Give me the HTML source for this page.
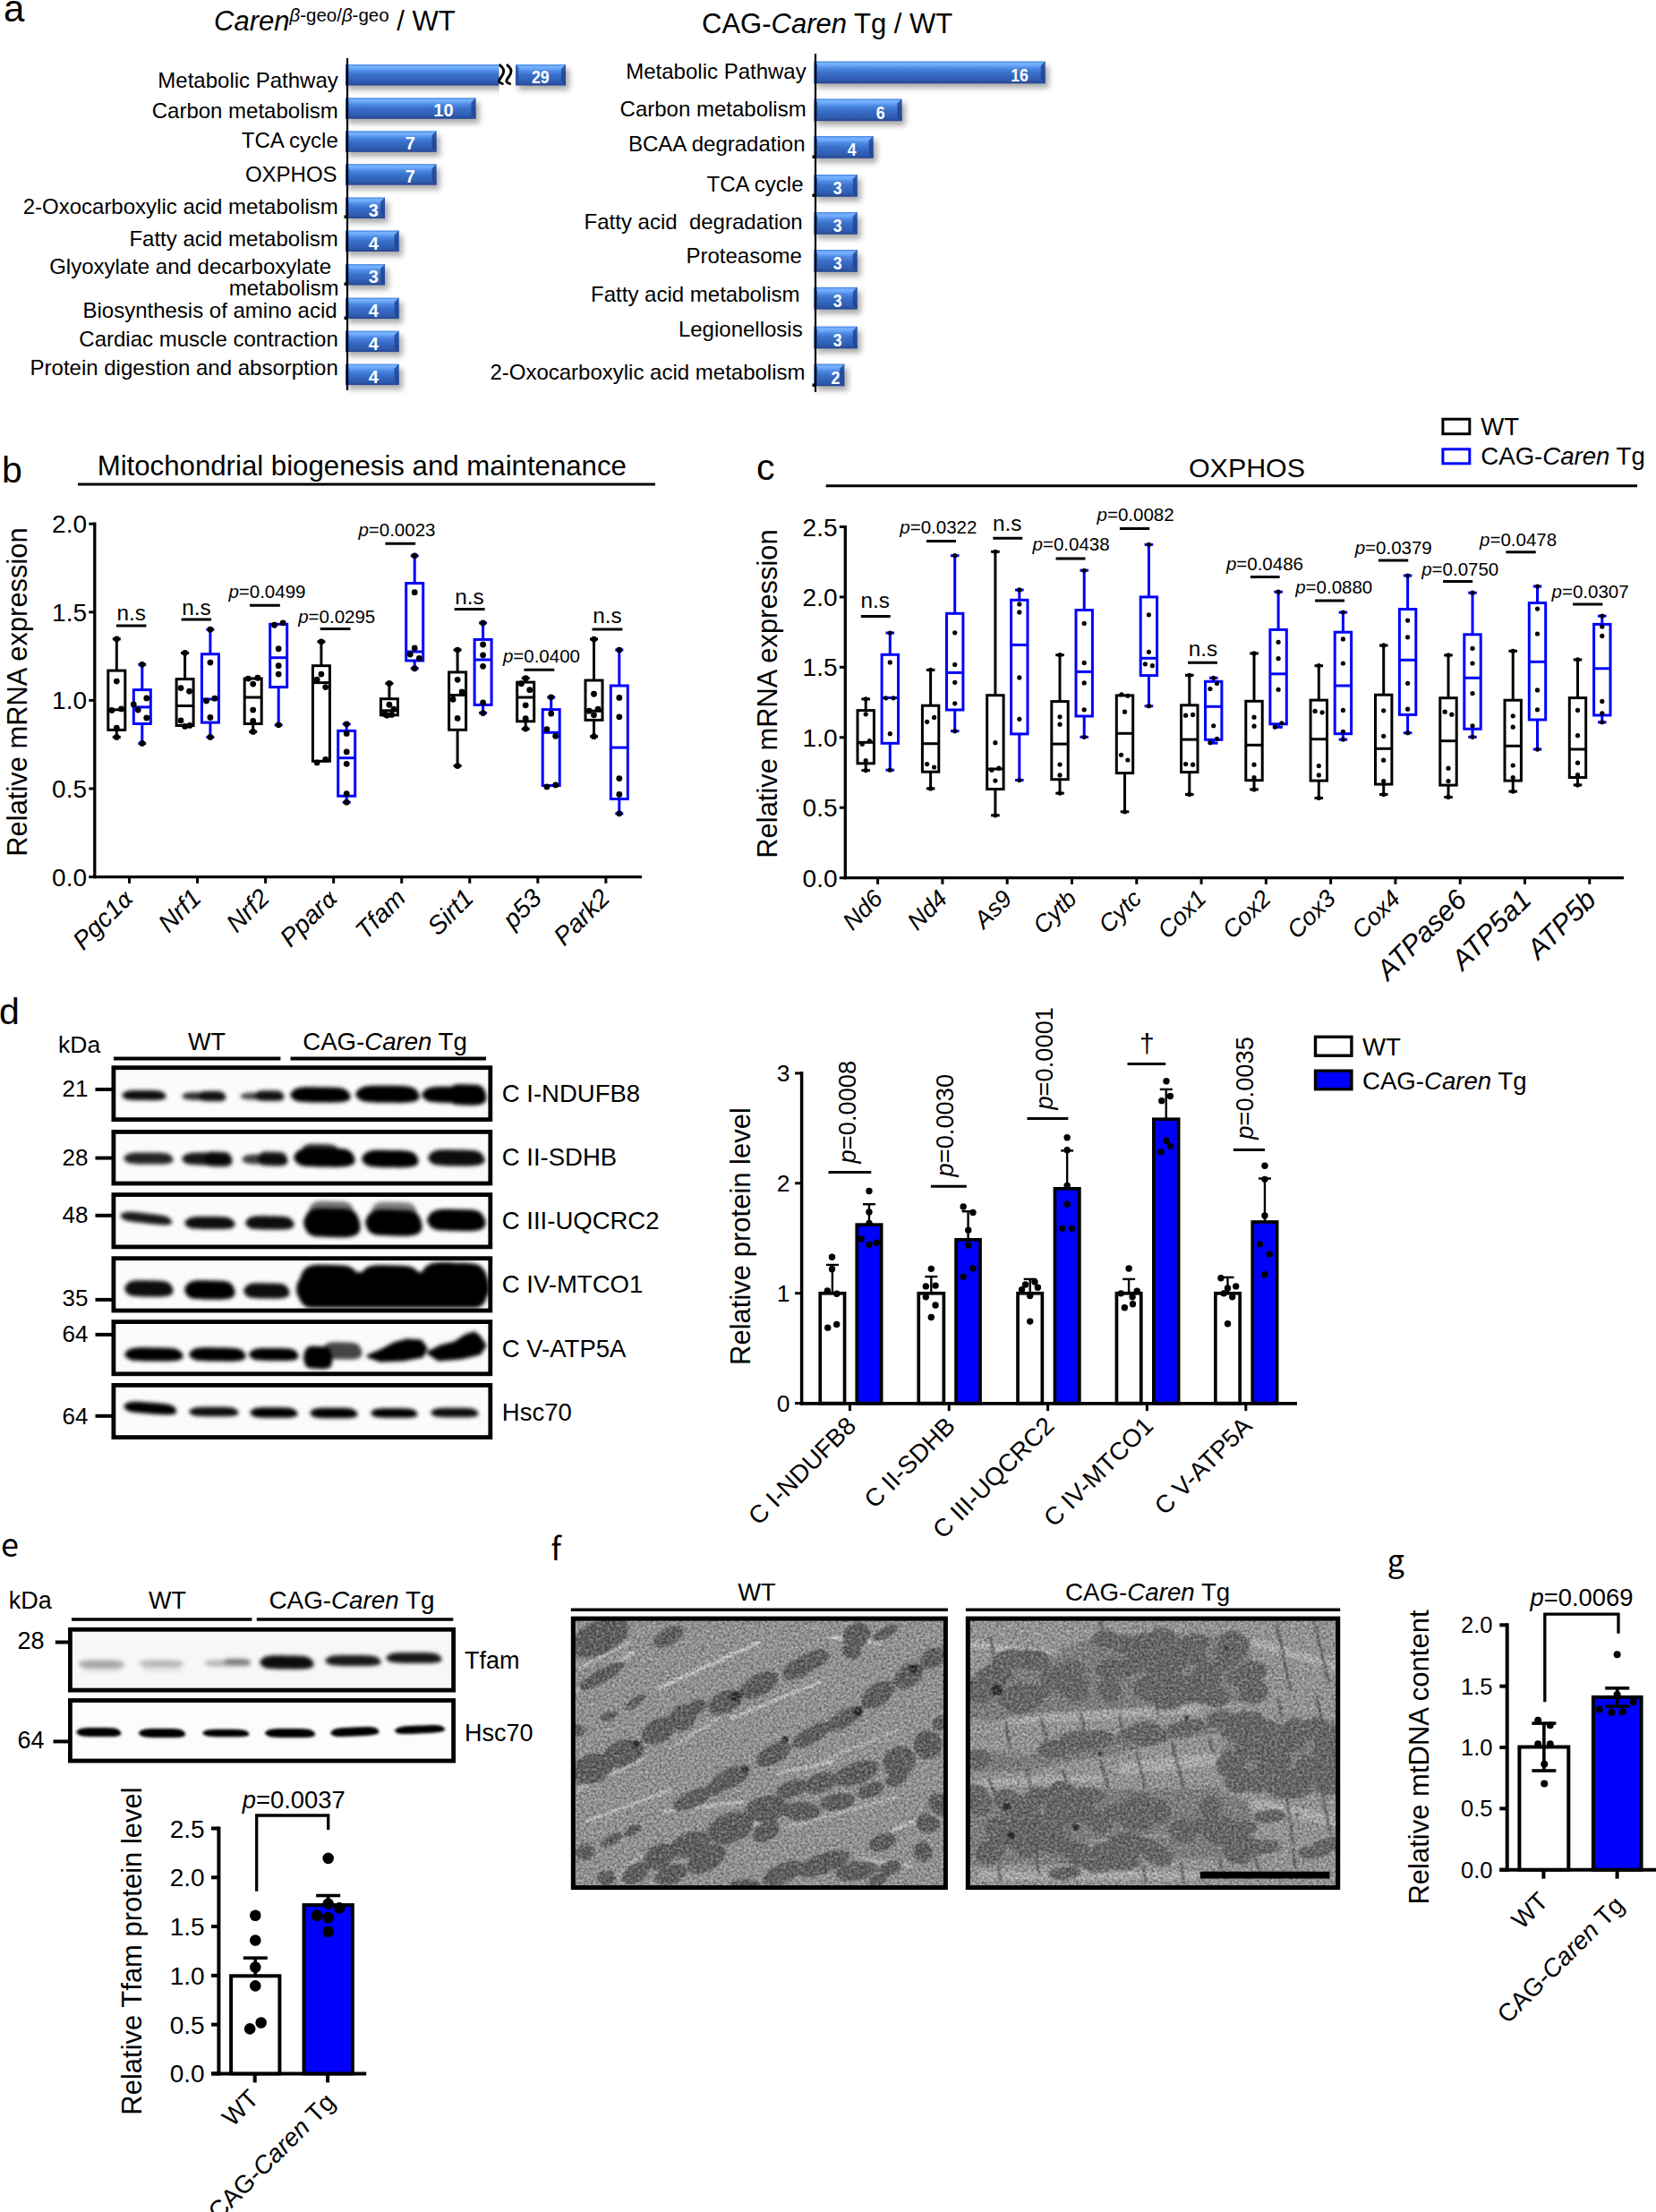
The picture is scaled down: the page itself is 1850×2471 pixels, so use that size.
<!DOCTYPE html>
<html lang="en"><head><meta charset="utf-8"><title>Figure</title>
<style>
html,body{margin:0;padding:0;background:#fff;}
body{width:1850px;height:2471px;overflow:hidden;}
svg{display:block;font-family:'Liberation Sans', Arial, Helvetica, sans-serif;}
</style></head><body>
<svg width="1850" height="2471" viewBox="0 0 1850 2471">
<defs>
<linearGradient id="barg" x1="0" y1="0" x2="0" y2="1">
<stop offset="0" stop-color="#4a86e0"/><stop offset="0.05" stop-color="#5b98ee"/><stop offset="0.08" stop-color="#74b2ff"/><stop offset="0.18" stop-color="#6eabfb"/>
<stop offset="0.30" stop-color="#4f8ce6"/><stop offset="0.50" stop-color="#3b71cb"/><stop offset="0.82" stop-color="#2f5db2"/><stop offset="0.92" stop-color="#2a52a2"/><stop offset="1" stop-color="#25468e"/>
</linearGradient>
<filter id="sh" x="-10%" y="-40%" width="125%" height="220%"><feGaussianBlur stdDeviation="3"/></filter>
<filter id="bl2" x="-20%" y="-60%" width="140%" height="220%"><feGaussianBlur stdDeviation="2.2"/></filter><filter id="bl3" x="-20%" y="-60%" width="140%" height="220%"><feGaussianBlur stdDeviation="3.2"/></filter><filter id="bl15" x="-20%" y="-60%" width="140%" height="220%"><feGaussianBlur stdDeviation="1.5"/></filter>
<clipPath id="bc1"><rect x="124.5" y="1190.3" width="425.7" height="62.7"/></clipPath>
<clipPath id="bc2"><rect x="124.5" y="1262" width="425.7" height="62.4"/></clipPath>
<clipPath id="bc3"><rect x="124.5" y="1332.2" width="425.7" height="63.1"/></clipPath>
<clipPath id="bc4"><rect x="124.5" y="1403.3" width="425.7" height="63.1"/></clipPath>
<clipPath id="bc5"><rect x="124.5" y="1474.2" width="425.7" height="63"/></clipPath>
<clipPath id="bc6"><rect x="124.5" y="1545" width="425.7" height="63"/></clipPath>
<clipPath id="bc7"><rect x="76" y="1817.9" width="433" height="72.6"/></clipPath>
<clipPath id="bc8"><rect x="76" y="1897.1" width="433" height="72.3"/></clipPath>
<filter id="emn" x="0" y="0" width="100%" height="100%">
<feTurbulence type="fractalNoise" baseFrequency="0.38" numOctaves="2" seed="7" result="n"/>
<feColorMatrix in="n" type="matrix" values="0 0 0 0 0  0 0 0 0 0  0 0 0 0 0  0.9 0 0 0 -0.32"/>
</filter>
<filter id="emn2" x="0" y="0" width="100%" height="100%">
<feTurbulence type="fractalNoise" baseFrequency="0.33" numOctaves="2" seed="3" result="n"/>
<feColorMatrix in="n" type="matrix" values="0 0 0 0 1  0 0 0 0 1  0 0 0 0 1  0 0.8 0 0 -0.34"/>
</filter>
<filter id="emb" x="-10%" y="-10%" width="120%" height="120%"><feGaussianBlur stdDeviation="0.9"/></filter>
<clipPath id="emL"><rect x="640" y="1808" width="417" height="301"/></clipPath>
<clipPath id="emR"><rect x="1081" y="1808" width="414" height="301"/></clipPath>
</defs>
<rect width="1850" height="2471" fill="#fff"/>
<text x="4" y="23.5" font-size="42" text-anchor="start">a</text>
<text x="239" y="34" font-size="31"><tspan font-style="italic">Caren</tspan><tspan font-size="20.5" dy="-10.5"><tspan font-style="italic">β</tspan>-geo/<tspan font-style="italic">β</tspan>-geo</tspan><tspan dy="10.5"> / WT</tspan></text>
<text x="784" y="36.5" font-size="31" text-anchor="start">CAG-<tspan font-style="italic">Caren</tspan> Tg / WT</text>
<rect x="389" y="77" width="177" height="23.5" fill="#000" opacity="0.33" filter="url(#sh)"/>
<rect x="386" y="72" width="176" height="23.5" fill="url(#barg)"/>
<path d="M386 72 l3.5 3.5 v16.5 l-3.5 3.5z" fill="#24489a" opacity="0.75"/>
<rect x="557.5" y="64" width="18.5" height="48" fill="#fff"/>
<rect x="579" y="77" width="57" height="23.5" fill="#000" opacity="0.33" filter="url(#sh)"/>
<rect x="576" y="72" width="56" height="23.5" fill="url(#barg)"/>
<path d="M576 72 l3.5 3.5 v16.5 l-3.5 3.5z" fill="#24489a" opacity="0.75"/>
<path d="M632 72 l-5 5 v13.5 l5 5z" fill="#1f4290" opacity="0.8"/>
<text x="603.8" y="93.2" font-size="21" text-anchor="middle" font-weight="bold" fill="#fff" textLength="19.74" lengthAdjust="spacingAndGlyphs">29</text>
<path d="M558.6 72.8 C564.6 77.5 563.2 82 559.6 86.5 S557.4 92.3 561.4 93.6" fill="none" stroke="#000" stroke-width="2.9" stroke-linecap="round"/>
<path d="M566.9 72.8 C572.9 77.5 571.5 82 567.9 86.5 S565.7 92.3 569.7 93.6" fill="none" stroke="#000" stroke-width="2.9" stroke-linecap="round"/>
<rect x="389" y="114.3" width="146.5" height="23.5" fill="#000" opacity="0.33" filter="url(#sh)"/>
<rect x="386" y="109.3" width="145.5" height="23.5" fill="url(#barg)"/>
<path d="M386 109.3 l3.5 3.5 v16.5 l-3.5 3.5z" fill="#24489a" opacity="0.75"/>
<path d="M531.5 109.3 l-5 5 v13.5 l5 5z" fill="#1f4290" opacity="0.8"/>
<text x="495.4" y="130.3" font-size="20" text-anchor="middle" font-weight="bold" fill="#fff">10</text>
<rect x="389" y="151.3" width="102.5" height="23.5" fill="#000" opacity="0.33" filter="url(#sh)"/>
<rect x="386" y="146.3" width="101.5" height="23.5" fill="url(#barg)"/>
<path d="M386 146.3 l3.5 3.5 v16.5 l-3.5 3.5z" fill="#24489a" opacity="0.75"/>
<path d="M487.5 146.3 l-5 5 v13.5 l5 5z" fill="#1f4290" opacity="0.8"/>
<text x="458.3" y="167.3" font-size="20" text-anchor="middle" font-weight="bold" fill="#fff">7</text>
<rect x="389" y="188.2" width="102.5" height="23.5" fill="#000" opacity="0.33" filter="url(#sh)"/>
<rect x="386" y="183.2" width="101.5" height="23.5" fill="url(#barg)"/>
<path d="M386 183.2 l3.5 3.5 v16.5 l-3.5 3.5z" fill="#24489a" opacity="0.75"/>
<path d="M487.5 183.2 l-5 5 v13.5 l5 5z" fill="#1f4290" opacity="0.8"/>
<text x="458.3" y="204.2" font-size="20" text-anchor="middle" font-weight="bold" fill="#fff">7</text>
<rect x="389" y="225.5" width="45" height="23.5" fill="#000" opacity="0.33" filter="url(#sh)"/>
<rect x="386" y="220.5" width="44" height="23.5" fill="url(#barg)"/>
<path d="M386 220.5 l3.5 3.5 v16.5 l-3.5 3.5z" fill="#24489a" opacity="0.75"/>
<path d="M430 220.5 l-5 5 v13.5 l5 5z" fill="#1f4290" opacity="0.8"/>
<text x="417.3" y="241.5" font-size="20" text-anchor="middle" font-weight="bold" fill="#fff">3</text>
<rect x="389" y="262.5" width="60.6" height="23.5" fill="#000" opacity="0.33" filter="url(#sh)"/>
<rect x="386" y="257.5" width="59.6" height="23.5" fill="url(#barg)"/>
<path d="M386 257.5 l3.5 3.5 v16.5 l-3.5 3.5z" fill="#24489a" opacity="0.75"/>
<path d="M445.6 257.5 l-5 5 v13.5 l5 5z" fill="#1f4290" opacity="0.8"/>
<text x="417.3" y="278.5" font-size="20" text-anchor="middle" font-weight="bold" fill="#fff">4</text>
<rect x="389" y="300" width="45" height="23.5" fill="#000" opacity="0.33" filter="url(#sh)"/>
<rect x="386" y="295" width="44" height="23.5" fill="url(#barg)"/>
<path d="M386 295 l3.5 3.5 v16.5 l-3.5 3.5z" fill="#24489a" opacity="0.75"/>
<path d="M430 295 l-5 5 v13.5 l5 5z" fill="#1f4290" opacity="0.8"/>
<text x="417.3" y="316" font-size="20" text-anchor="middle" font-weight="bold" fill="#fff">3</text>
<rect x="389" y="337.6" width="60.6" height="23.5" fill="#000" opacity="0.33" filter="url(#sh)"/>
<rect x="386" y="332.6" width="59.6" height="23.5" fill="url(#barg)"/>
<path d="M386 332.6 l3.5 3.5 v16.5 l-3.5 3.5z" fill="#24489a" opacity="0.75"/>
<path d="M445.6 332.6 l-5 5 v13.5 l5 5z" fill="#1f4290" opacity="0.8"/>
<text x="417.3" y="353.6" font-size="20" text-anchor="middle" font-weight="bold" fill="#fff">4</text>
<rect x="389" y="374.6" width="60.6" height="23.5" fill="#000" opacity="0.33" filter="url(#sh)"/>
<rect x="386" y="369.6" width="59.6" height="23.5" fill="url(#barg)"/>
<path d="M386 369.6 l3.5 3.5 v16.5 l-3.5 3.5z" fill="#24489a" opacity="0.75"/>
<path d="M445.6 369.6 l-5 5 v13.5 l5 5z" fill="#1f4290" opacity="0.8"/>
<text x="417.3" y="390.6" font-size="20" text-anchor="middle" font-weight="bold" fill="#fff">4</text>
<rect x="389" y="411.6" width="60.6" height="23.5" fill="#000" opacity="0.33" filter="url(#sh)"/>
<rect x="386" y="406.6" width="59.6" height="23.5" fill="url(#barg)"/>
<path d="M386 406.6 l3.5 3.5 v16.5 l-3.5 3.5z" fill="#24489a" opacity="0.75"/>
<path d="M445.6 406.6 l-5 5 v13.5 l5 5z" fill="#1f4290" opacity="0.8"/>
<text x="417.3" y="427.6" font-size="20" text-anchor="middle" font-weight="bold" fill="#fff">4</text>
<line x1="388" y1="65" x2="388" y2="436" stroke="#000" stroke-width="2.2"/>
<text x="377.8" y="98.4" font-size="24" text-anchor="end">Metabolic Pathway</text>
<text x="377.8" y="131.5" font-size="24" text-anchor="end">Carbon metabolism</text>
<text x="377.8" y="164.6" font-size="24" text-anchor="end">TCA cycle</text>
<text x="376.6" y="203.3" font-size="24" text-anchor="end">OXPHOS</text>
<text x="377.8" y="239.1" font-size="24" text-anchor="end">2-Oxocarboxylic acid metabolism</text>
<text x="377.8" y="274.5" font-size="24" text-anchor="end">Fatty acid metabolism</text>
<text x="370" y="305.6" font-size="24" text-anchor="end">Glyoxylate and decarboxylate</text>
<text x="378.5" y="330.3" font-size="24" text-anchor="end">metabolism</text>
<text x="376.6" y="355.4" font-size="24" text-anchor="end">Biosynthesis of amino acid</text>
<text x="377.8" y="386.5" font-size="24" text-anchor="end">Cardiac muscle contraction</text>
<text x="377.8" y="419.2" font-size="24" text-anchor="end">Protein digestion and absorption</text>
<rect x="384.5" y="240.5" width="3" height="3.5" fill="#000"/>
<rect x="384.5" y="315.5" width="3" height="3.5" fill="#000"/>
<rect x="384.5" y="353.5" width="3" height="3.5" fill="#000"/>
<rect x="912.5" y="73.5" width="259.2" height="24.8" fill="#000" opacity="0.33" filter="url(#sh)"/>
<rect x="909.5" y="68.5" width="258.2" height="24.8" fill="url(#barg)"/>
<path d="M909.5 68.5 l3.5 3.5 v17.8 l-3.5 3.5z" fill="#24489a" opacity="0.75"/>
<path d="M1167.7 68.5 l-5 5 v14.8 l5 5z" fill="#1f4290" opacity="0.8"/>
<text x="1139" y="90.7" font-size="21" text-anchor="middle" font-weight="bold" fill="#fff" textLength="19.74" lengthAdjust="spacingAndGlyphs">16</text>
<rect x="912.5" y="115.4" width="99" height="24.8" fill="#000" opacity="0.33" filter="url(#sh)"/>
<rect x="909.5" y="110.4" width="98" height="24.8" fill="url(#barg)"/>
<path d="M909.5 110.4 l3.5 3.5 v17.8 l-3.5 3.5z" fill="#24489a" opacity="0.75"/>
<path d="M1007.5 110.4 l-5 5 v14.8 l5 5z" fill="#1f4290" opacity="0.8"/>
<text x="983.6" y="132.6" font-size="21" text-anchor="middle" font-weight="bold" fill="#fff" textLength="9.87" lengthAdjust="spacingAndGlyphs">6</text>
<rect x="912.5" y="157" width="67.1" height="24.8" fill="#000" opacity="0.33" filter="url(#sh)"/>
<rect x="909.5" y="152" width="66.1" height="24.8" fill="url(#barg)"/>
<path d="M909.5 152 l3.5 3.5 v17.8 l-3.5 3.5z" fill="#24489a" opacity="0.75"/>
<path d="M975.6 152 l-5 5 v14.8 l5 5z" fill="#1f4290" opacity="0.8"/>
<text x="951.7" y="174.2" font-size="21" text-anchor="middle" font-weight="bold" fill="#fff" textLength="9.87" lengthAdjust="spacingAndGlyphs">4</text>
<rect x="912.5" y="200" width="49.2" height="24.8" fill="#000" opacity="0.33" filter="url(#sh)"/>
<rect x="909.5" y="195" width="48.2" height="24.8" fill="url(#barg)"/>
<path d="M909.5 195 l3.5 3.5 v17.8 l-3.5 3.5z" fill="#24489a" opacity="0.75"/>
<path d="M957.7 195 l-5 5 v14.8 l5 5z" fill="#1f4290" opacity="0.8"/>
<text x="935.8" y="217.2" font-size="21" text-anchor="middle" font-weight="bold" fill="#fff" textLength="9.87" lengthAdjust="spacingAndGlyphs">3</text>
<rect x="912.5" y="242" width="49.2" height="24.8" fill="#000" opacity="0.33" filter="url(#sh)"/>
<rect x="909.5" y="237" width="48.2" height="24.8" fill="url(#barg)"/>
<path d="M909.5 237 l3.5 3.5 v17.8 l-3.5 3.5z" fill="#24489a" opacity="0.75"/>
<path d="M957.7 237 l-5 5 v14.8 l5 5z" fill="#1f4290" opacity="0.8"/>
<text x="935.8" y="259.2" font-size="21" text-anchor="middle" font-weight="bold" fill="#fff" textLength="9.87" lengthAdjust="spacingAndGlyphs">3</text>
<rect x="912.5" y="284" width="49.2" height="24.8" fill="#000" opacity="0.33" filter="url(#sh)"/>
<rect x="909.5" y="279" width="48.2" height="24.8" fill="url(#barg)"/>
<path d="M909.5 279 l3.5 3.5 v17.8 l-3.5 3.5z" fill="#24489a" opacity="0.75"/>
<path d="M957.7 279 l-5 5 v14.8 l5 5z" fill="#1f4290" opacity="0.8"/>
<text x="935.8" y="301.2" font-size="21" text-anchor="middle" font-weight="bold" fill="#fff" textLength="9.87" lengthAdjust="spacingAndGlyphs">3</text>
<rect x="912.5" y="325.8" width="49.2" height="24.8" fill="#000" opacity="0.33" filter="url(#sh)"/>
<rect x="909.5" y="320.8" width="48.2" height="24.8" fill="url(#barg)"/>
<path d="M909.5 320.8 l3.5 3.5 v17.8 l-3.5 3.5z" fill="#24489a" opacity="0.75"/>
<path d="M957.7 320.8 l-5 5 v14.8 l5 5z" fill="#1f4290" opacity="0.8"/>
<text x="935.8" y="343" font-size="21" text-anchor="middle" font-weight="bold" fill="#fff" textLength="9.87" lengthAdjust="spacingAndGlyphs">3</text>
<rect x="912.5" y="369.6" width="49.2" height="24.8" fill="#000" opacity="0.33" filter="url(#sh)"/>
<rect x="909.5" y="364.6" width="48.2" height="24.8" fill="url(#barg)"/>
<path d="M909.5 364.6 l3.5 3.5 v17.8 l-3.5 3.5z" fill="#24489a" opacity="0.75"/>
<path d="M957.7 364.6 l-5 5 v14.8 l5 5z" fill="#1f4290" opacity="0.8"/>
<text x="935.8" y="386.8" font-size="21" text-anchor="middle" font-weight="bold" fill="#fff" textLength="9.87" lengthAdjust="spacingAndGlyphs">3</text>
<rect x="912.5" y="411.5" width="34.8" height="24.8" fill="#000" opacity="0.33" filter="url(#sh)"/>
<rect x="909.5" y="406.5" width="33.8" height="24.8" fill="url(#barg)"/>
<path d="M909.5 406.5 l3.5 3.5 v17.8 l-3.5 3.5z" fill="#24489a" opacity="0.75"/>
<path d="M943.3 406.5 l-5 5 v14.8 l5 5z" fill="#1f4290" opacity="0.8"/>
<text x="933.4" y="428.7" font-size="21" text-anchor="middle" font-weight="bold" fill="#fff" textLength="9.87" lengthAdjust="spacingAndGlyphs">2</text>
<line x1="911" y1="60" x2="911" y2="438" stroke="#000" stroke-width="2.2"/>
<text x="900.7" y="87.7" font-size="24" text-anchor="end" xml:space="preserve">Metabolic Pathway</text>
<text x="900.7" y="129.5" font-size="24" text-anchor="end" xml:space="preserve">Carbon metabolism</text>
<text x="899.5" y="168.6" font-size="24" text-anchor="end" xml:space="preserve">BCAA degradation</text>
<text x="897.5" y="214" font-size="24" text-anchor="end" xml:space="preserve">TCA cycle</text>
<text x="896.7" y="255.8" font-size="24" text-anchor="end" xml:space="preserve">Fatty acid  degradation</text>
<text x="895.9" y="293.7" font-size="24" text-anchor="end" xml:space="preserve">Proteasome</text>
<text x="893.5" y="336.7" font-size="24" text-anchor="end" xml:space="preserve">Fatty acid metabolism</text>
<text x="896.7" y="376.2" font-size="24" text-anchor="end" xml:space="preserve">Legionellosis</text>
<text x="899.5" y="424.4" font-size="24" text-anchor="end" xml:space="preserve">2-Oxocarboxylic acid metabolism</text>
<rect x="907.5" y="173.5" width="3" height="3.5" fill="#000"/>
<rect x="907.5" y="216.5" width="3" height="3.5" fill="#000"/>
<rect x="907.5" y="428.5" width="3" height="3.5" fill="#000"/>
<text x="2" y="539" font-size="41" text-anchor="start">b</text>
<text x="404.3" y="530.5" font-size="31.2" text-anchor="middle">Mitochondrial biogenesis and maintenance</text>
<line x1="87" y1="541" x2="732" y2="541" stroke="#000" stroke-width="3"/>
<line x1="105.8" y1="583.5" x2="105.8" y2="981.25" stroke="#000" stroke-width="3.3"/>
<line x1="104.15" y1="979.6" x2="717" y2="979.6" stroke="#000" stroke-width="3.3"/>
<line x1="99.3" y1="585.2" x2="105.8" y2="585.2" stroke="#000" stroke-width="3"/>
<text x="97" y="595.2" font-size="28" text-anchor="end">2.0</text>
<line x1="99.3" y1="683.8" x2="105.8" y2="683.8" stroke="#000" stroke-width="3"/>
<text x="97" y="693.8" font-size="28" text-anchor="end">1.5</text>
<line x1="99.3" y1="782.4" x2="105.8" y2="782.4" stroke="#000" stroke-width="3"/>
<text x="97" y="792.4" font-size="28" text-anchor="end">1.0</text>
<line x1="99.3" y1="881" x2="105.8" y2="881" stroke="#000" stroke-width="3"/>
<text x="97" y="891" font-size="28" text-anchor="end">0.5</text>
<line x1="99.3" y1="979.6" x2="105.8" y2="979.6" stroke="#000" stroke-width="3"/>
<text x="97" y="989.6" font-size="28" text-anchor="end">0.0</text>
<text x="29.5" y="773" font-size="30.9" text-anchor="middle" transform="rotate(-90 29.5 773)">Relative mRNA expression</text>
<line x1="144.5" y1="979.6" x2="144.5" y2="986.8" stroke="#000" stroke-width="3"/>
<text x="150.5" y="1005" font-size="28.5" text-anchor="end" transform="rotate(-45 150.5 1005)" font-style="italic">Pgc1<tspan font-family="DejaVu Sans, Liberation Sans, sans-serif" font-size="25">α</tspan></text>
<line x1="220.55" y1="979.6" x2="220.55" y2="986.8" stroke="#000" stroke-width="3"/>
<text x="226.55" y="1005" font-size="28.5" text-anchor="end" transform="rotate(-45 226.55 1005)" font-style="italic">Nrf1</text>
<line x1="296.6" y1="979.6" x2="296.6" y2="986.8" stroke="#000" stroke-width="3"/>
<text x="302.6" y="1005" font-size="28.5" text-anchor="end" transform="rotate(-45 302.6 1005)" font-style="italic">Nrf2</text>
<line x1="372.65" y1="979.6" x2="372.65" y2="986.8" stroke="#000" stroke-width="3"/>
<text x="378.65" y="1005" font-size="28.5" text-anchor="end" transform="rotate(-45 378.65 1005)" font-style="italic">Ppar<tspan font-family="DejaVu Sans, Liberation Sans, sans-serif" font-size="25">α</tspan></text>
<line x1="448.7" y1="979.6" x2="448.7" y2="986.8" stroke="#000" stroke-width="3"/>
<text x="454.7" y="1005" font-size="28.5" text-anchor="end" transform="rotate(-45 454.7 1005)" font-style="italic">Tfam</text>
<line x1="524.75" y1="979.6" x2="524.75" y2="986.8" stroke="#000" stroke-width="3"/>
<text x="530.75" y="1005" font-size="28.5" text-anchor="end" transform="rotate(-45 530.75 1005)" font-style="italic">Sirt1</text>
<line x1="600.8" y1="979.6" x2="600.8" y2="986.8" stroke="#000" stroke-width="3"/>
<text x="606.8" y="1005" font-size="28.5" text-anchor="end" transform="rotate(-45 606.8 1005)" font-style="italic">p53</text>
<line x1="676.85" y1="979.6" x2="676.85" y2="986.8" stroke="#000" stroke-width="3"/>
<text x="682.85" y="1005" font-size="28.5" text-anchor="end" transform="rotate(-45 682.85 1005)" font-style="italic">Park2</text>
<line x1="130.3" y1="713.8" x2="130.3" y2="749.1" stroke="#000" stroke-width="3"/>
<line x1="125.8" y1="713.8" x2="134.8" y2="713.8" stroke="#000" stroke-width="3"/>
<line x1="130.3" y1="815.4" x2="130.3" y2="823.4" stroke="#000" stroke-width="3"/>
<line x1="125.8" y1="823.4" x2="134.8" y2="823.4" stroke="#000" stroke-width="3"/>
<rect x="120.8" y="749.1" width="19" height="66.3" fill="#fff" stroke="#000" stroke-width="3"/>
<line x1="120.8" y1="792.8" x2="139.8" y2="792.8" stroke="#000" stroke-width="3"/>
<circle cx="130.3" cy="713.81" r="3.4"/>
<circle cx="130.3" cy="761.04" r="3.4"/>
<circle cx="124.92" cy="793.52" r="3.4"/>
<circle cx="135.48" cy="791.93" r="3.4"/>
<circle cx="130.3" cy="813.05" r="3.4"/>
<circle cx="130.3" cy="823.41" r="3.4"/>
<line x1="158.8" y1="742.3" x2="158.8" y2="770.6" stroke="#0000ff" stroke-width="3"/>
<line x1="154.3" y1="742.3" x2="163.3" y2="742.3" stroke="#0000ff" stroke-width="3"/>
<line x1="158.8" y1="808.5" x2="158.8" y2="830.4" stroke="#0000ff" stroke-width="3"/>
<line x1="154.3" y1="830.4" x2="163.3" y2="830.4" stroke="#0000ff" stroke-width="3"/>
<rect x="149.3" y="770.6" width="19" height="37.9" fill="#fff" stroke="#0000ff" stroke-width="3"/>
<line x1="149.3" y1="789.9" x2="168.3" y2="789.9" stroke="#0000ff" stroke-width="3"/>
<circle cx="158.8" cy="742.3" r="3.4"/>
<circle cx="163.78" cy="779.97" r="3.4"/>
<circle cx="149.23" cy="786.94" r="3.4"/>
<circle cx="154.22" cy="793.12" r="3.4"/>
<circle cx="163.78" cy="801.89" r="3.4"/>
<circle cx="158.8" cy="830.39" r="3.4"/>
<line x1="206.6" y1="729.4" x2="206.6" y2="758.6" stroke="#000" stroke-width="3"/>
<line x1="202.1" y1="729.4" x2="211.1" y2="729.4" stroke="#000" stroke-width="3"/>
<rect x="197.1" y="758.6" width="19" height="51.9" fill="#fff" stroke="#000" stroke-width="3"/>
<line x1="197.1" y1="788.5" x2="216.1" y2="788.5" stroke="#000" stroke-width="3"/>
<circle cx="206.6" cy="729.35" r="3.4"/>
<circle cx="202.02" cy="768.61" r="3.4"/>
<circle cx="211.58" cy="772.2" r="3.4"/>
<circle cx="202.02" cy="804.88" r="3.4"/>
<circle cx="206.6" cy="811.45" r="3.4"/>
<circle cx="211.98" cy="810.46" r="3.4"/>
<line x1="234.9" y1="703.2" x2="234.9" y2="730.7" stroke="#0000ff" stroke-width="3"/>
<line x1="230.4" y1="703.2" x2="239.4" y2="703.2" stroke="#0000ff" stroke-width="3"/>
<line x1="234.9" y1="807.1" x2="234.9" y2="823.4" stroke="#0000ff" stroke-width="3"/>
<line x1="230.4" y1="823.4" x2="239.4" y2="823.4" stroke="#0000ff" stroke-width="3"/>
<rect x="225.4" y="730.7" width="19" height="76.4" fill="#fff" stroke="#0000ff" stroke-width="3"/>
<line x1="225.4" y1="781" x2="244.4" y2="781" stroke="#0000ff" stroke-width="3"/>
<circle cx="234.9" cy="703.24" r="3.4"/>
<circle cx="234.9" cy="740.11" r="3.4"/>
<circle cx="230.52" cy="782.96" r="3.4"/>
<circle cx="239.88" cy="780.17" r="3.4"/>
<circle cx="234.9" cy="801.49" r="3.4"/>
<circle cx="234.9" cy="823.41" r="3.4"/>
<line x1="282.7" y1="808.5" x2="282.7" y2="817.4" stroke="#000" stroke-width="3"/>
<line x1="278.2" y1="817.4" x2="287.2" y2="817.4" stroke="#000" stroke-width="3"/>
<rect x="273.2" y="758" width="19" height="50.5" fill="#fff" stroke="#000" stroke-width="3"/>
<line x1="273.2" y1="779" x2="292.2" y2="779" stroke="#000" stroke-width="3"/>
<circle cx="277.32" cy="758.05" r="3.4"/>
<circle cx="287.88" cy="757.25" r="3.4"/>
<circle cx="282.7" cy="764.03" r="3.4"/>
<circle cx="282.7" cy="793.12" r="3.4"/>
<circle cx="282.7" cy="805.48" r="3.4"/>
<circle cx="282.7" cy="817.43" r="3.4"/>
<line x1="311.2" y1="767.6" x2="311.2" y2="809.9" stroke="#0000ff" stroke-width="3"/>
<line x1="306.7" y1="809.9" x2="315.7" y2="809.9" stroke="#0000ff" stroke-width="3"/>
<rect x="301.7" y="697.3" width="19" height="70.3" fill="#fff" stroke="#0000ff" stroke-width="3"/>
<line x1="301.7" y1="734.7" x2="320.7" y2="734.7" stroke="#0000ff" stroke-width="3"/>
<circle cx="306.62" cy="698.26" r="3.4"/>
<circle cx="316.18" cy="695.87" r="3.4"/>
<circle cx="311.2" cy="724.77" r="3.4"/>
<circle cx="311.2" cy="743.7" r="3.4"/>
<circle cx="311.2" cy="753.06" r="3.4"/>
<circle cx="311.2" cy="809.86" r="3.4"/>
<line x1="358.9" y1="716.8" x2="358.9" y2="743.7" stroke="#000" stroke-width="3"/>
<line x1="354.4" y1="716.8" x2="363.4" y2="716.8" stroke="#000" stroke-width="3"/>
<rect x="349.4" y="743.7" width="19" height="106.6" fill="#fff" stroke="#000" stroke-width="3"/>
<line x1="349.4" y1="762.6" x2="368.4" y2="762.6" stroke="#000" stroke-width="3"/>
<circle cx="358.9" cy="716.8" r="3.4"/>
<circle cx="358.9" cy="753.06" r="3.4"/>
<circle cx="354.12" cy="759.04" r="3.4"/>
<circle cx="363.68" cy="767.61" r="3.4"/>
<circle cx="354.12" cy="851.91" r="3.4"/>
<circle cx="363.68" cy="848.32" r="3.4"/>
<line x1="387.2" y1="808.9" x2="387.2" y2="816.4" stroke="#0000ff" stroke-width="3"/>
<line x1="382.7" y1="808.9" x2="391.7" y2="808.9" stroke="#0000ff" stroke-width="3"/>
<line x1="387.2" y1="889.2" x2="387.2" y2="896.2" stroke="#0000ff" stroke-width="3"/>
<line x1="382.7" y1="896.2" x2="391.7" y2="896.2" stroke="#0000ff" stroke-width="3"/>
<rect x="377.7" y="816.4" width="19" height="72.8" fill="#fff" stroke="#0000ff" stroke-width="3"/>
<line x1="377.7" y1="846.7" x2="396.7" y2="846.7" stroke="#0000ff" stroke-width="3"/>
<circle cx="387.2" cy="808.86" r="3.4"/>
<circle cx="387.2" cy="819.43" r="3.4"/>
<circle cx="387.2" cy="839.95" r="3.4"/>
<circle cx="387.2" cy="853.3" r="3.4"/>
<circle cx="387.2" cy="886.58" r="3.4"/>
<circle cx="387.2" cy="896.15" r="3.4"/>
<line x1="434.9" y1="763.4" x2="434.9" y2="780.7" stroke="#000" stroke-width="3"/>
<line x1="430.4" y1="763.4" x2="439.4" y2="763.4" stroke="#000" stroke-width="3"/>
<rect x="425.4" y="780.7" width="19" height="18.1" fill="#fff" stroke="#000" stroke-width="3"/>
<line x1="425.4" y1="793.8" x2="444.4" y2="793.8" stroke="#000" stroke-width="3"/>
<circle cx="434.9" cy="763.52" r="3.4"/>
<circle cx="434.9" cy="787.23" r="3.4"/>
<circle cx="439.88" cy="792.21" r="3.4"/>
<circle cx="432.31" cy="799.19" r="3.4"/>
<circle cx="437.49" cy="798.39" r="3.4"/>
<circle cx="429.92" cy="797.79" r="3.4"/>
<line x1="463.2" y1="620.8" x2="463.2" y2="651.5" stroke="#0000ff" stroke-width="3"/>
<line x1="458.7" y1="620.8" x2="467.7" y2="620.8" stroke="#0000ff" stroke-width="3"/>
<line x1="463.2" y1="738" x2="463.2" y2="746.7" stroke="#0000ff" stroke-width="3"/>
<line x1="458.7" y1="746.7" x2="467.7" y2="746.7" stroke="#0000ff" stroke-width="3"/>
<rect x="453.7" y="651.5" width="19" height="86.5" fill="#fff" stroke="#0000ff" stroke-width="3"/>
<line x1="453.7" y1="728" x2="472.7" y2="728" stroke="#0000ff" stroke-width="3"/>
<circle cx="463.2" cy="620.78" r="3.4"/>
<circle cx="463.2" cy="661.63" r="3.4"/>
<circle cx="463.2" cy="724.01" r="3.4"/>
<circle cx="458.22" cy="730.98" r="3.4"/>
<circle cx="468.38" cy="735.37" r="3.4"/>
<circle cx="463.2" cy="746.73" r="3.4"/>
<line x1="511.1" y1="726" x2="511.1" y2="750.9" stroke="#000" stroke-width="3"/>
<line x1="506.6" y1="726" x2="515.6" y2="726" stroke="#000" stroke-width="3"/>
<line x1="511.1" y1="815.3" x2="511.1" y2="855.6" stroke="#000" stroke-width="3"/>
<line x1="506.6" y1="855.6" x2="515.6" y2="855.6" stroke="#000" stroke-width="3"/>
<rect x="501.6" y="750.9" width="19" height="64.4" fill="#fff" stroke="#000" stroke-width="3"/>
<line x1="501.6" y1="776.5" x2="520.6" y2="776.5" stroke="#000" stroke-width="3"/>
<circle cx="511.1" cy="726.05" r="3.4"/>
<circle cx="511.1" cy="759.33" r="3.4"/>
<circle cx="516.08" cy="772.88" r="3.4"/>
<circle cx="506.12" cy="781.25" r="3.4"/>
<circle cx="511.1" cy="802.38" r="3.4"/>
<circle cx="511.1" cy="855.58" r="3.4"/>
<line x1="539.6" y1="695.9" x2="539.6" y2="714.4" stroke="#0000ff" stroke-width="3"/>
<line x1="535.1" y1="695.9" x2="544.1" y2="695.9" stroke="#0000ff" stroke-width="3"/>
<line x1="539.6" y1="787.4" x2="539.6" y2="796.4" stroke="#0000ff" stroke-width="3"/>
<line x1="535.1" y1="796.4" x2="544.1" y2="796.4" stroke="#0000ff" stroke-width="3"/>
<rect x="530.1" y="714.4" width="19" height="73" fill="#fff" stroke="#0000ff" stroke-width="3"/>
<line x1="530.1" y1="737" x2="549.1" y2="737" stroke="#0000ff" stroke-width="3"/>
<circle cx="539.6" cy="695.91" r="3.4"/>
<circle cx="539.6" cy="720.02" r="3.4"/>
<circle cx="539.6" cy="731.78" r="3.4"/>
<circle cx="539.6" cy="744.34" r="3.4"/>
<circle cx="539.6" cy="784.79" r="3.4"/>
<circle cx="539.6" cy="796.55" r="3.4"/>
<line x1="587.2" y1="757.5" x2="587.2" y2="762.1" stroke="#000" stroke-width="3"/>
<line x1="582.7" y1="757.5" x2="591.7" y2="757.5" stroke="#000" stroke-width="3"/>
<line x1="587.2" y1="805.8" x2="587.2" y2="814.3" stroke="#000" stroke-width="3"/>
<line x1="582.7" y1="814.3" x2="591.7" y2="814.3" stroke="#000" stroke-width="3"/>
<rect x="577.7" y="762.1" width="19" height="43.7" fill="#fff" stroke="#000" stroke-width="3"/>
<line x1="577.7" y1="779" x2="596.7" y2="779" stroke="#000" stroke-width="3"/>
<circle cx="587.2" cy="757.69" r="3.4"/>
<circle cx="582.42" cy="763.67" r="3.4"/>
<circle cx="591.78" cy="770.64" r="3.4"/>
<circle cx="587.2" cy="787.78" r="3.4"/>
<circle cx="587.2" cy="802.73" r="3.4"/>
<circle cx="587.2" cy="814.09" r="3.4"/>
<line x1="615.7" y1="778.9" x2="615.7" y2="792.6" stroke="#0000ff" stroke-width="3"/>
<line x1="611.2" y1="778.9" x2="620.2" y2="778.9" stroke="#0000ff" stroke-width="3"/>
<rect x="606.2" y="792.6" width="19" height="84.9" fill="#fff" stroke="#0000ff" stroke-width="3"/>
<line x1="606.2" y1="818.3" x2="625.2" y2="818.3" stroke="#0000ff" stroke-width="3"/>
<circle cx="615.7" cy="778.86" r="3.4"/>
<circle cx="615.7" cy="797.19" r="3.4"/>
<circle cx="610.92" cy="814.73" r="3.4"/>
<circle cx="620.68" cy="822.3" r="3.4"/>
<circle cx="610.92" cy="878.9" r="3.4"/>
<circle cx="620.68" cy="876.91" r="3.4"/>
<line x1="663.5" y1="714" x2="663.5" y2="760" stroke="#000" stroke-width="3"/>
<line x1="659" y1="714" x2="668" y2="714" stroke="#000" stroke-width="3"/>
<line x1="663.5" y1="804.4" x2="663.5" y2="822.7" stroke="#000" stroke-width="3"/>
<line x1="659" y1="822.7" x2="668" y2="822.7" stroke="#000" stroke-width="3"/>
<rect x="654" y="760" width="19" height="44.4" fill="#fff" stroke="#000" stroke-width="3"/>
<line x1="654" y1="794.2" x2="673" y2="794.2" stroke="#000" stroke-width="3"/>
<circle cx="663.5" cy="714.09" r="3.4"/>
<circle cx="663.5" cy="775.27" r="3.4"/>
<circle cx="668.08" cy="792.21" r="3.4"/>
<circle cx="658.12" cy="794.2" r="3.4"/>
<circle cx="663.5" cy="798.79" r="3.4"/>
<circle cx="663.5" cy="822.7" r="3.4"/>
<line x1="691.8" y1="726" x2="691.8" y2="766" stroke="#0000ff" stroke-width="3"/>
<line x1="687.3" y1="726" x2="696.3" y2="726" stroke="#0000ff" stroke-width="3"/>
<line x1="691.8" y1="892.5" x2="691.8" y2="908.8" stroke="#0000ff" stroke-width="3"/>
<line x1="687.3" y1="908.8" x2="696.3" y2="908.8" stroke="#0000ff" stroke-width="3"/>
<rect x="682.3" y="766" width="19" height="126.5" fill="#fff" stroke="#0000ff" stroke-width="3"/>
<line x1="682.3" y1="835.1" x2="701.3" y2="835.1" stroke="#0000ff" stroke-width="3"/>
<circle cx="691.8" cy="726.05" r="3.4"/>
<circle cx="691.8" cy="779.46" r="3.4"/>
<circle cx="691.8" cy="800.78" r="3.4"/>
<circle cx="691.8" cy="869.53" r="3.4"/>
<circle cx="691.8" cy="887.47" r="3.4"/>
<circle cx="691.8" cy="908.79" r="3.4"/>
<line x1="129.9" y1="698.9" x2="163.4" y2="698.9" stroke="#000" stroke-width="3"/>
<text x="146.8" y="692.7" font-size="24.3" text-anchor="middle">n.s</text>
<line x1="202.6" y1="691.9" x2="236.1" y2="691.9" stroke="#000" stroke-width="3"/>
<text x="219.5" y="686.7" font-size="24.3" text-anchor="middle">n.s</text>
<line x1="279" y1="676.3" x2="312.8" y2="676.3" stroke="#000" stroke-width="3"/>
<text x="255.4" y="667.6" font-size="20.5" text-anchor="start"><tspan font-style="italic">p</tspan>=0.0499</text>
<line x1="357.7" y1="702.4" x2="391.5" y2="702.4" stroke="#000" stroke-width="3"/>
<text x="333.2" y="695.5" font-size="20.5" text-anchor="start"><tspan font-style="italic">p</tspan>=0.0295</text>
<line x1="430.4" y1="607.2" x2="464.2" y2="607.2" stroke="#000" stroke-width="3"/>
<text x="400.4" y="598.9" font-size="20.5" text-anchor="start"><tspan font-style="italic">p</tspan>=0.0023</text>
<line x1="507.7" y1="680.6" x2="541.6" y2="680.6" stroke="#000" stroke-width="3"/>
<text x="524.5" y="674.8" font-size="24.3" text-anchor="middle">n.s</text>
<line x1="585.4" y1="748.3" x2="619.3" y2="748.3" stroke="#000" stroke-width="3"/>
<text x="561.9" y="740.3" font-size="20.5" text-anchor="start"><tspan font-style="italic">p</tspan>=0.0400</text>
<line x1="661.5" y1="702.9" x2="695.4" y2="702.9" stroke="#000" stroke-width="3"/>
<text x="678.5" y="695.7" font-size="24.3" text-anchor="middle">n.s</text>
<text x="845" y="535.5" font-size="41" text-anchor="start">c</text>
<text x="1393" y="533.2" font-size="30.4" text-anchor="middle">OXPHOS</text>
<line x1="922.7" y1="542.8" x2="1829" y2="542.8" stroke="#000" stroke-width="3"/>
<line x1="944.3" y1="587" x2="944.3" y2="982.35" stroke="#000" stroke-width="3.3"/>
<line x1="942.65" y1="980.7" x2="1814" y2="980.7" stroke="#000" stroke-width="3.3"/>
<line x1="937.8" y1="588.5" x2="944.3" y2="588.5" stroke="#000" stroke-width="3"/>
<text x="935.5" y="598.5" font-size="28" text-anchor="end">2.5</text>
<line x1="937.8" y1="666.9" x2="944.3" y2="666.9" stroke="#000" stroke-width="3"/>
<text x="935.5" y="676.9" font-size="28" text-anchor="end">2.0</text>
<line x1="937.8" y1="745.3" x2="944.3" y2="745.3" stroke="#000" stroke-width="3"/>
<text x="935.5" y="755.3" font-size="28" text-anchor="end">1.5</text>
<line x1="937.8" y1="823.8" x2="944.3" y2="823.8" stroke="#000" stroke-width="3"/>
<text x="935.5" y="833.8" font-size="28" text-anchor="end">1.0</text>
<line x1="937.8" y1="902.2" x2="944.3" y2="902.2" stroke="#000" stroke-width="3"/>
<text x="935.5" y="912.2" font-size="28" text-anchor="end">0.5</text>
<line x1="937.8" y1="980.7" x2="944.3" y2="980.7" stroke="#000" stroke-width="3"/>
<text x="935.5" y="990.7" font-size="28" text-anchor="end">0.0</text>
<text x="867.5" y="775" font-size="30.9" text-anchor="middle" transform="rotate(-90 867.5 775)">Relative mRNA expression</text>
<rect x="1611.9" y="468.2" width="29.9" height="16.5" fill="#fff" stroke="#000" stroke-width="3"/>
<text x="1654.3" y="486.2" font-size="27.6" text-anchor="start">WT</text>
<rect x="1611.9" y="501.8" width="29.9" height="16" fill="#fff" stroke="#0000ff" stroke-width="3"/>
<text x="1654.3" y="519.4" font-size="27.6" text-anchor="start">CAG-<tspan font-style="italic">Caren</tspan> Tg</text>
<line x1="980.6" y1="980.7" x2="980.6" y2="987.8" stroke="#000" stroke-width="3"/>
<text x="987.6" y="1005.5" font-size="27" text-anchor="end" transform="rotate(-45 987.6 1005.5)" font-style="italic">Nd6</text>
<line x1="1052.89" y1="980.7" x2="1052.89" y2="987.8" stroke="#000" stroke-width="3"/>
<text x="1059.89" y="1005.5" font-size="27" text-anchor="end" transform="rotate(-45 1059.89 1005.5)" font-style="italic">Nd4</text>
<line x1="1125.18" y1="980.7" x2="1125.18" y2="987.8" stroke="#000" stroke-width="3"/>
<text x="1132.18" y="1005.5" font-size="27" text-anchor="end" transform="rotate(-45 1132.18 1005.5)" font-style="italic">As9</text>
<line x1="1197.47" y1="980.7" x2="1197.47" y2="987.8" stroke="#000" stroke-width="3"/>
<text x="1204.47" y="1005.5" font-size="27" text-anchor="end" transform="rotate(-45 1204.47 1005.5)" font-style="italic">Cytb</text>
<line x1="1269.76" y1="980.7" x2="1269.76" y2="987.8" stroke="#000" stroke-width="3"/>
<text x="1276.76" y="1005.5" font-size="27" text-anchor="end" transform="rotate(-45 1276.76 1005.5)" font-style="italic">Cytc</text>
<line x1="1342.05" y1="980.7" x2="1342.05" y2="987.8" stroke="#000" stroke-width="3"/>
<text x="1349.05" y="1005.5" font-size="27" text-anchor="end" transform="rotate(-45 1349.05 1005.5)" font-style="italic">Cox1</text>
<line x1="1414.34" y1="980.7" x2="1414.34" y2="987.8" stroke="#000" stroke-width="3"/>
<text x="1421.34" y="1005.5" font-size="27" text-anchor="end" transform="rotate(-45 1421.34 1005.5)" font-style="italic">Cox2</text>
<line x1="1486.63" y1="980.7" x2="1486.63" y2="987.8" stroke="#000" stroke-width="3"/>
<text x="1493.63" y="1005.5" font-size="27" text-anchor="end" transform="rotate(-45 1493.63 1005.5)" font-style="italic">Cox3</text>
<line x1="1558.92" y1="980.7" x2="1558.92" y2="987.8" stroke="#000" stroke-width="3"/>
<text x="1565.92" y="1005.5" font-size="27" text-anchor="end" transform="rotate(-45 1565.92 1005.5)" font-style="italic">Cox4</text>
<line x1="1631.21" y1="980.7" x2="1631.21" y2="987.8" stroke="#000" stroke-width="3"/>
<text x="1640.21" y="1007" font-size="31.3" text-anchor="end" transform="rotate(-45 1640.21 1007)" font-style="italic">ATPase6</text>
<line x1="1703.5" y1="980.7" x2="1703.5" y2="987.8" stroke="#000" stroke-width="3"/>
<text x="1712.5" y="1007" font-size="31.3" text-anchor="end" transform="rotate(-45 1712.5 1007)" font-style="italic">ATP5a1</text>
<line x1="1775.79" y1="980.7" x2="1775.79" y2="987.8" stroke="#000" stroke-width="3"/>
<text x="1784.79" y="1007" font-size="31.3" text-anchor="end" transform="rotate(-45 1784.79 1007)" font-style="italic">ATP5b</text>
<line x1="967.2" y1="780.9" x2="967.2" y2="793.6" stroke="#000" stroke-width="3"/>
<line x1="962.4" y1="780.9" x2="972" y2="780.9" stroke="#000" stroke-width="3"/>
<line x1="967.2" y1="852.8" x2="967.2" y2="860.6" stroke="#000" stroke-width="3"/>
<line x1="962.4" y1="860.6" x2="972" y2="860.6" stroke="#000" stroke-width="3"/>
<rect x="958" y="793.6" width="18.4" height="59.2" fill="#fff" stroke="#000" stroke-width="3"/>
<line x1="958" y1="829.3" x2="976.4" y2="829.3" stroke="#000" stroke-width="3"/>
<circle cx="967.2" cy="780.85" r="2.6"/>
<circle cx="967.2" cy="797.79" r="2.6"/>
<circle cx="971.38" cy="827.68" r="2.6"/>
<circle cx="963.21" cy="831.27" r="2.6"/>
<circle cx="967.2" cy="849.61" r="2.6"/>
<circle cx="967.2" cy="860.57" r="2.6"/>
<line x1="994.3" y1="707" x2="994.3" y2="731.3" stroke="#0000ff" stroke-width="3"/>
<line x1="989.5" y1="707" x2="999.1" y2="707" stroke="#0000ff" stroke-width="3"/>
<line x1="994.3" y1="830.3" x2="994.3" y2="860.2" stroke="#0000ff" stroke-width="3"/>
<line x1="989.5" y1="860.2" x2="999.1" y2="860.2" stroke="#0000ff" stroke-width="3"/>
<rect x="985.1" y="731.3" width="18.4" height="99" fill="#fff" stroke="#0000ff" stroke-width="3"/>
<line x1="985.1" y1="779.5" x2="1003.5" y2="779.5" stroke="#0000ff" stroke-width="3"/>
<circle cx="994.3" cy="707" r="2.6"/>
<circle cx="994.3" cy="739.88" r="2.6"/>
<circle cx="989.72" cy="779.86" r="2.6"/>
<circle cx="998.09" cy="779.86" r="2.6"/>
<circle cx="994.3" cy="819.71" r="2.6"/>
<circle cx="994.3" cy="860.17" r="2.6"/>
<line x1="1039.6" y1="748.4" x2="1039.6" y2="788.2" stroke="#000" stroke-width="3"/>
<line x1="1034.8" y1="748.4" x2="1044.4" y2="748.4" stroke="#000" stroke-width="3"/>
<line x1="1039.6" y1="862.2" x2="1039.6" y2="880.9" stroke="#000" stroke-width="3"/>
<line x1="1034.8" y1="880.9" x2="1044.4" y2="880.9" stroke="#000" stroke-width="3"/>
<rect x="1030.4" y="788.2" width="18.4" height="74" fill="#fff" stroke="#000" stroke-width="3"/>
<line x1="1030.4" y1="830.7" x2="1048.8" y2="830.7" stroke="#000" stroke-width="3"/>
<circle cx="1039.6" cy="748.37" r="2.6"/>
<circle cx="1035.61" cy="806.36" r="2.6"/>
<circle cx="1043.59" cy="801.38" r="2.6"/>
<circle cx="1035.61" cy="853.59" r="2.6"/>
<circle cx="1043.59" cy="856.98" r="2.6"/>
<circle cx="1039.6" cy="880.89" r="2.6"/>
<line x1="1066.7" y1="620.7" x2="1066.7" y2="685.3" stroke="#0000ff" stroke-width="3"/>
<line x1="1061.9" y1="620.7" x2="1071.5" y2="620.7" stroke="#0000ff" stroke-width="3"/>
<line x1="1066.7" y1="793" x2="1066.7" y2="816.7" stroke="#0000ff" stroke-width="3"/>
<line x1="1061.9" y1="816.7" x2="1071.5" y2="816.7" stroke="#0000ff" stroke-width="3"/>
<rect x="1057.5" y="685.3" width="18.4" height="107.7" fill="#fff" stroke="#0000ff" stroke-width="3"/>
<line x1="1057.5" y1="751.4" x2="1075.9" y2="751.4" stroke="#0000ff" stroke-width="3"/>
<circle cx="1066.7" cy="620.71" r="2.6"/>
<circle cx="1066.7" cy="706.8" r="2.6"/>
<circle cx="1066.7" cy="742.39" r="2.6"/>
<circle cx="1066.7" cy="762.32" r="2.6"/>
<circle cx="1066.7" cy="785.83" r="2.6"/>
<circle cx="1066.7" cy="816.72" r="2.6"/>
<line x1="1111.9" y1="616.3" x2="1111.9" y2="776.7" stroke="#000" stroke-width="3"/>
<line x1="1107.1" y1="616.3" x2="1116.7" y2="616.3" stroke="#000" stroke-width="3"/>
<line x1="1111.9" y1="881.5" x2="1111.9" y2="910.8" stroke="#000" stroke-width="3"/>
<line x1="1107.1" y1="910.8" x2="1116.7" y2="910.8" stroke="#000" stroke-width="3"/>
<rect x="1102.7" y="776.7" width="18.4" height="104.8" fill="#fff" stroke="#000" stroke-width="3"/>
<line x1="1102.7" y1="859" x2="1121.1" y2="859" stroke="#000" stroke-width="3"/>
<circle cx="1111.9" cy="616.33" r="2.6"/>
<circle cx="1111.9" cy="829.68" r="2.6"/>
<circle cx="1107.91" cy="860.17" r="2.6"/>
<circle cx="1115.89" cy="858.17" r="2.6"/>
<circle cx="1111.9" cy="872.12" r="2.6"/>
<circle cx="1111.9" cy="910.79" r="2.6"/>
<line x1="1138.8" y1="659" x2="1138.8" y2="670.3" stroke="#0000ff" stroke-width="3"/>
<line x1="1134" y1="659" x2="1143.6" y2="659" stroke="#0000ff" stroke-width="3"/>
<line x1="1138.8" y1="819.9" x2="1138.8" y2="871.5" stroke="#0000ff" stroke-width="3"/>
<line x1="1134" y1="871.5" x2="1143.6" y2="871.5" stroke="#0000ff" stroke-width="3"/>
<rect x="1129.6" y="670.3" width="18.4" height="149.6" fill="#fff" stroke="#0000ff" stroke-width="3"/>
<line x1="1129.6" y1="720.4" x2="1148" y2="720.4" stroke="#0000ff" stroke-width="3"/>
<circle cx="1138.8" cy="658.97" r="2.6"/>
<circle cx="1138.8" cy="674.91" r="2.6"/>
<circle cx="1138.8" cy="683.88" r="2.6"/>
<circle cx="1138.8" cy="756.94" r="2.6"/>
<circle cx="1138.8" cy="803.37" r="2.6"/>
<circle cx="1138.8" cy="871.53" r="2.6"/>
<line x1="1184" y1="731.7" x2="1184" y2="783.6" stroke="#000" stroke-width="3"/>
<line x1="1179.2" y1="731.7" x2="1188.8" y2="731.7" stroke="#000" stroke-width="3"/>
<line x1="1184" y1="870.7" x2="1184" y2="886.1" stroke="#000" stroke-width="3"/>
<line x1="1179.2" y1="886.1" x2="1188.8" y2="886.1" stroke="#000" stroke-width="3"/>
<rect x="1174.8" y="783.6" width="18.4" height="87.1" fill="#fff" stroke="#000" stroke-width="3"/>
<line x1="1174.8" y1="831.1" x2="1193.2" y2="831.1" stroke="#000" stroke-width="3"/>
<circle cx="1184" cy="731.71" r="2.6"/>
<circle cx="1184" cy="800.78" r="2.6"/>
<circle cx="1184" cy="809.15" r="2.6"/>
<circle cx="1184" cy="853.99" r="2.6"/>
<circle cx="1184" cy="865.95" r="2.6"/>
<circle cx="1184" cy="886.07" r="2.6"/>
<line x1="1211.2" y1="637.2" x2="1211.2" y2="681.5" stroke="#0000ff" stroke-width="3"/>
<line x1="1206.4" y1="637.2" x2="1216" y2="637.2" stroke="#0000ff" stroke-width="3"/>
<line x1="1211.2" y1="800" x2="1211.2" y2="823.3" stroke="#0000ff" stroke-width="3"/>
<line x1="1206.4" y1="823.3" x2="1216" y2="823.3" stroke="#0000ff" stroke-width="3"/>
<rect x="1202" y="681.5" width="18.4" height="118.5" fill="#fff" stroke="#0000ff" stroke-width="3"/>
<line x1="1202" y1="750.4" x2="1220.4" y2="750.4" stroke="#0000ff" stroke-width="3"/>
<circle cx="1211.2" cy="637.25" r="2.6"/>
<circle cx="1211.2" cy="696.44" r="2.6"/>
<circle cx="1211.2" cy="740.4" r="2.6"/>
<circle cx="1211.2" cy="762.92" r="2.6"/>
<circle cx="1211.2" cy="792.81" r="2.6"/>
<circle cx="1211.2" cy="823.3" r="2.6"/>
<line x1="1256.5" y1="863.6" x2="1256.5" y2="906.8" stroke="#000" stroke-width="3"/>
<line x1="1251.7" y1="906.8" x2="1261.3" y2="906.8" stroke="#000" stroke-width="3"/>
<rect x="1247.3" y="776.9" width="18.4" height="86.7" fill="#fff" stroke="#000" stroke-width="3"/>
<line x1="1247.3" y1="819.3" x2="1265.7" y2="819.3" stroke="#000" stroke-width="3"/>
<circle cx="1252.91" cy="775.87" r="2.6"/>
<circle cx="1259.89" cy="777.27" r="2.6"/>
<circle cx="1256.5" cy="795.2" r="2.6"/>
<circle cx="1252.51" cy="843.23" r="2.6"/>
<circle cx="1259.89" cy="849.01" r="2.6"/>
<circle cx="1256.5" cy="906.8" r="2.6"/>
<line x1="1283.4" y1="608.4" x2="1283.4" y2="666.9" stroke="#0000ff" stroke-width="3"/>
<line x1="1278.6" y1="608.4" x2="1288.2" y2="608.4" stroke="#0000ff" stroke-width="3"/>
<line x1="1283.4" y1="754.6" x2="1283.4" y2="788.8" stroke="#0000ff" stroke-width="3"/>
<line x1="1278.6" y1="788.8" x2="1288.2" y2="788.8" stroke="#0000ff" stroke-width="3"/>
<rect x="1274.2" y="666.9" width="18.4" height="87.7" fill="#fff" stroke="#0000ff" stroke-width="3"/>
<line x1="1274.2" y1="735.3" x2="1292.6" y2="735.3" stroke="#0000ff" stroke-width="3"/>
<circle cx="1283.4" cy="608.35" r="2.6"/>
<circle cx="1283.4" cy="686.87" r="2.6"/>
<circle cx="1283.4" cy="728.32" r="2.6"/>
<circle cx="1279.41" cy="741.87" r="2.6"/>
<circle cx="1287.39" cy="743.67" r="2.6"/>
<circle cx="1283.4" cy="788.7" r="2.6"/>
<line x1="1328.8" y1="754.3" x2="1328.8" y2="787.8" stroke="#000" stroke-width="3"/>
<line x1="1324" y1="754.3" x2="1333.6" y2="754.3" stroke="#000" stroke-width="3"/>
<line x1="1328.8" y1="862.6" x2="1328.8" y2="887.5" stroke="#000" stroke-width="3"/>
<line x1="1324" y1="887.5" x2="1333.6" y2="887.5" stroke="#000" stroke-width="3"/>
<rect x="1319.6" y="787.8" width="18.4" height="74.8" fill="#fff" stroke="#000" stroke-width="3"/>
<line x1="1319.6" y1="826.1" x2="1338" y2="826.1" stroke="#000" stroke-width="3"/>
<circle cx="1328.8" cy="754.35" r="2.6"/>
<circle cx="1324.62" cy="799.19" r="2.6"/>
<circle cx="1332.59" cy="798.39" r="2.6"/>
<circle cx="1324.62" cy="853.59" r="2.6"/>
<circle cx="1332.59" cy="854.19" r="2.6"/>
<circle cx="1328.8" cy="887.47" r="2.6"/>
<line x1="1355.7" y1="757.3" x2="1355.7" y2="761.3" stroke="#0000ff" stroke-width="3"/>
<line x1="1350.9" y1="757.3" x2="1360.5" y2="757.3" stroke="#0000ff" stroke-width="3"/>
<line x1="1355.7" y1="826.3" x2="1355.7" y2="830.1" stroke="#0000ff" stroke-width="3"/>
<line x1="1350.9" y1="830.1" x2="1360.5" y2="830.1" stroke="#0000ff" stroke-width="3"/>
<rect x="1346.5" y="761.3" width="18.4" height="65" fill="#fff" stroke="#0000ff" stroke-width="3"/>
<line x1="1346.5" y1="789.3" x2="1364.9" y2="789.3" stroke="#0000ff" stroke-width="3"/>
<circle cx="1355.7" cy="757.34" r="2.6"/>
<circle cx="1359.49" cy="763.52" r="2.6"/>
<circle cx="1351.91" cy="769.49" r="2.6"/>
<circle cx="1355.7" cy="810.75" r="2.6"/>
<circle cx="1359.49" cy="825.29" r="2.6"/>
<circle cx="1351.91" cy="829.68" r="2.6"/>
<line x1="1401" y1="729.9" x2="1401" y2="783.3" stroke="#000" stroke-width="3"/>
<line x1="1396.2" y1="729.9" x2="1405.8" y2="729.9" stroke="#000" stroke-width="3"/>
<line x1="1401" y1="871.7" x2="1401" y2="881.9" stroke="#000" stroke-width="3"/>
<line x1="1396.2" y1="881.9" x2="1405.8" y2="881.9" stroke="#000" stroke-width="3"/>
<rect x="1391.8" y="783.3" width="18.4" height="88.4" fill="#fff" stroke="#000" stroke-width="3"/>
<line x1="1391.8" y1="832.3" x2="1410.2" y2="832.3" stroke="#000" stroke-width="3"/>
<circle cx="1401" cy="729.92" r="2.6"/>
<circle cx="1401" cy="801.18" r="2.6"/>
<circle cx="1401" cy="811.14" r="2.6"/>
<circle cx="1401" cy="854.19" r="2.6"/>
<circle cx="1401" cy="868.54" r="2.6"/>
<circle cx="1401" cy="881.89" r="2.6"/>
<line x1="1428.1" y1="661.2" x2="1428.1" y2="703.4" stroke="#0000ff" stroke-width="3"/>
<line x1="1423.3" y1="661.2" x2="1432.9" y2="661.2" stroke="#0000ff" stroke-width="3"/>
<line x1="1428.1" y1="808.8" x2="1428.1" y2="812.3" stroke="#0000ff" stroke-width="3"/>
<line x1="1423.3" y1="812.3" x2="1432.9" y2="812.3" stroke="#0000ff" stroke-width="3"/>
<rect x="1418.9" y="703.4" width="18.4" height="105.4" fill="#fff" stroke="#0000ff" stroke-width="3"/>
<line x1="1418.9" y1="752.8" x2="1437.3" y2="752.8" stroke="#0000ff" stroke-width="3"/>
<circle cx="1428.1" cy="661.16" r="2.6"/>
<circle cx="1428.1" cy="717.36" r="2.6"/>
<circle cx="1428.1" cy="735.7" r="2.6"/>
<circle cx="1428.1" cy="770.29" r="2.6"/>
<circle cx="1431.89" cy="807.76" r="2.6"/>
<circle cx="1424.31" cy="812.14" r="2.6"/>
<line x1="1473.3" y1="743.7" x2="1473.3" y2="782.1" stroke="#000" stroke-width="3"/>
<line x1="1468.5" y1="743.7" x2="1478.1" y2="743.7" stroke="#000" stroke-width="3"/>
<line x1="1473.3" y1="872.1" x2="1473.3" y2="891.5" stroke="#000" stroke-width="3"/>
<line x1="1468.5" y1="891.5" x2="1478.1" y2="891.5" stroke="#000" stroke-width="3"/>
<rect x="1464.1" y="782.1" width="18.4" height="90" fill="#fff" stroke="#000" stroke-width="3"/>
<line x1="1464.1" y1="825.7" x2="1482.5" y2="825.7" stroke="#000" stroke-width="3"/>
<circle cx="1473.3" cy="743.59" r="2.6"/>
<circle cx="1469.12" cy="794.4" r="2.6"/>
<circle cx="1477.09" cy="795.8" r="2.6"/>
<circle cx="1473.3" cy="855.58" r="2.6"/>
<circle cx="1473.3" cy="865.95" r="2.6"/>
<circle cx="1473.3" cy="891.45" r="2.6"/>
<line x1="1500.4" y1="684.1" x2="1500.4" y2="706.2" stroke="#0000ff" stroke-width="3"/>
<line x1="1495.6" y1="684.1" x2="1505.2" y2="684.1" stroke="#0000ff" stroke-width="3"/>
<line x1="1500.4" y1="819.7" x2="1500.4" y2="826.1" stroke="#0000ff" stroke-width="3"/>
<line x1="1495.6" y1="826.1" x2="1505.2" y2="826.1" stroke="#0000ff" stroke-width="3"/>
<rect x="1491.2" y="706.2" width="18.4" height="113.5" fill="#fff" stroke="#0000ff" stroke-width="3"/>
<line x1="1491.2" y1="766" x2="1509.6" y2="766" stroke="#0000ff" stroke-width="3"/>
<circle cx="1500.4" cy="684.08" r="2.6"/>
<circle cx="1500.4" cy="713.97" r="2.6"/>
<circle cx="1500.4" cy="741" r="2.6"/>
<circle cx="1500.4" cy="793.41" r="2.6"/>
<circle cx="1500.4" cy="817.32" r="2.6"/>
<circle cx="1500.4" cy="826.09" r="2.6"/>
<line x1="1545.7" y1="721" x2="1545.7" y2="776.2" stroke="#000" stroke-width="3"/>
<line x1="1540.9" y1="721" x2="1550.5" y2="721" stroke="#000" stroke-width="3"/>
<line x1="1545.7" y1="876.1" x2="1545.7" y2="887.5" stroke="#000" stroke-width="3"/>
<line x1="1540.9" y1="887.5" x2="1550.5" y2="887.5" stroke="#000" stroke-width="3"/>
<rect x="1536.5" y="776.2" width="18.4" height="99.9" fill="#fff" stroke="#000" stroke-width="3"/>
<line x1="1536.5" y1="836.3" x2="1554.9" y2="836.3" stroke="#000" stroke-width="3"/>
<circle cx="1545.7" cy="720.95" r="2.6"/>
<circle cx="1545.7" cy="793.81" r="2.6"/>
<circle cx="1545.7" cy="822.3" r="2.6"/>
<circle cx="1545.7" cy="849.21" r="2.6"/>
<circle cx="1545.7" cy="872.52" r="2.6"/>
<circle cx="1545.7" cy="887.47" r="2.6"/>
<line x1="1572.6" y1="643" x2="1572.6" y2="680.5" stroke="#0000ff" stroke-width="3"/>
<line x1="1567.8" y1="643" x2="1577.4" y2="643" stroke="#0000ff" stroke-width="3"/>
<line x1="1572.6" y1="798.4" x2="1572.6" y2="818.7" stroke="#0000ff" stroke-width="3"/>
<line x1="1567.8" y1="818.7" x2="1577.4" y2="818.7" stroke="#0000ff" stroke-width="3"/>
<rect x="1563.4" y="680.5" width="18.4" height="117.9" fill="#fff" stroke="#0000ff" stroke-width="3"/>
<line x1="1563.4" y1="737.3" x2="1581.8" y2="737.3" stroke="#0000ff" stroke-width="3"/>
<circle cx="1572.6" cy="643.03" r="2.6"/>
<circle cx="1572.6" cy="693.05" r="2.6"/>
<circle cx="1572.6" cy="711.78" r="2.6"/>
<circle cx="1572.6" cy="763.32" r="2.6"/>
<circle cx="1572.6" cy="792.21" r="2.6"/>
<circle cx="1572.6" cy="818.72" r="2.6"/>
<line x1="1618" y1="731.9" x2="1618" y2="779.7" stroke="#000" stroke-width="3"/>
<line x1="1613.2" y1="731.9" x2="1622.8" y2="731.9" stroke="#000" stroke-width="3"/>
<line x1="1618" y1="877.1" x2="1618" y2="890.5" stroke="#000" stroke-width="3"/>
<line x1="1613.2" y1="890.5" x2="1622.8" y2="890.5" stroke="#000" stroke-width="3"/>
<rect x="1608.8" y="779.7" width="18.4" height="97.4" fill="#fff" stroke="#000" stroke-width="3"/>
<line x1="1608.8" y1="827.7" x2="1627.2" y2="827.7" stroke="#000" stroke-width="3"/>
<circle cx="1618" cy="731.91" r="2.6"/>
<circle cx="1614.21" cy="795.2" r="2.6"/>
<circle cx="1621.79" cy="798.19" r="2.6"/>
<circle cx="1618" cy="858.17" r="2.6"/>
<circle cx="1618" cy="872.52" r="2.6"/>
<circle cx="1618" cy="890.46" r="2.6"/>
<line x1="1645" y1="662.2" x2="1645" y2="708.8" stroke="#0000ff" stroke-width="3"/>
<line x1="1640.2" y1="662.2" x2="1649.8" y2="662.2" stroke="#0000ff" stroke-width="3"/>
<line x1="1645" y1="814.3" x2="1645" y2="823.3" stroke="#0000ff" stroke-width="3"/>
<line x1="1640.2" y1="823.3" x2="1649.8" y2="823.3" stroke="#0000ff" stroke-width="3"/>
<rect x="1635.8" y="708.8" width="18.4" height="105.5" fill="#fff" stroke="#0000ff" stroke-width="3"/>
<line x1="1635.8" y1="757.3" x2="1654.2" y2="757.3" stroke="#0000ff" stroke-width="3"/>
<circle cx="1645" cy="662.16" r="2.6"/>
<circle cx="1645" cy="724.34" r="2.6"/>
<circle cx="1645" cy="741" r="2.6"/>
<circle cx="1645" cy="774.48" r="2.6"/>
<circle cx="1645" cy="810.75" r="2.6"/>
<circle cx="1645" cy="823.3" r="2.6"/>
<line x1="1690.2" y1="727.3" x2="1690.2" y2="782.2" stroke="#000" stroke-width="3"/>
<line x1="1685.4" y1="727.3" x2="1695" y2="727.3" stroke="#000" stroke-width="3"/>
<line x1="1690.2" y1="872.1" x2="1690.2" y2="884.1" stroke="#000" stroke-width="3"/>
<line x1="1685.4" y1="884.1" x2="1695" y2="884.1" stroke="#000" stroke-width="3"/>
<rect x="1681" y="782.2" width="18.4" height="89.9" fill="#fff" stroke="#000" stroke-width="3"/>
<line x1="1681" y1="833.3" x2="1699.4" y2="833.3" stroke="#000" stroke-width="3"/>
<circle cx="1690.2" cy="727.33" r="2.6"/>
<circle cx="1690.2" cy="799.78" r="2.6"/>
<circle cx="1690.2" cy="812.14" r="2.6"/>
<circle cx="1690.2" cy="854.99" r="2.6"/>
<circle cx="1690.2" cy="868.54" r="2.6"/>
<circle cx="1690.2" cy="884.08" r="2.6"/>
<line x1="1717.5" y1="655" x2="1717.5" y2="673.5" stroke="#0000ff" stroke-width="3"/>
<line x1="1712.7" y1="655" x2="1722.3" y2="655" stroke="#0000ff" stroke-width="3"/>
<line x1="1717.5" y1="804" x2="1717.5" y2="837" stroke="#0000ff" stroke-width="3"/>
<line x1="1712.7" y1="837" x2="1722.3" y2="837" stroke="#0000ff" stroke-width="3"/>
<rect x="1708.3" y="673.5" width="18.4" height="130.5" fill="#fff" stroke="#0000ff" stroke-width="3"/>
<line x1="1708.3" y1="739.3" x2="1726.7" y2="739.3" stroke="#0000ff" stroke-width="3"/>
<circle cx="1717.5" cy="654.99" r="2.6"/>
<circle cx="1717.5" cy="680.1" r="2.6"/>
<circle cx="1717.5" cy="708" r="2.6"/>
<circle cx="1717.5" cy="770.89" r="2.6"/>
<circle cx="1717.5" cy="792.81" r="2.6"/>
<circle cx="1717.5" cy="837.05" r="2.6"/>
<line x1="1762.5" y1="736.9" x2="1762.5" y2="779.6" stroke="#000" stroke-width="3"/>
<line x1="1757.7" y1="736.9" x2="1767.3" y2="736.9" stroke="#000" stroke-width="3"/>
<line x1="1762.5" y1="868.5" x2="1762.5" y2="876.9" stroke="#000" stroke-width="3"/>
<line x1="1757.7" y1="876.9" x2="1767.3" y2="876.9" stroke="#000" stroke-width="3"/>
<rect x="1753.3" y="779.6" width="18.4" height="88.9" fill="#fff" stroke="#000" stroke-width="3"/>
<line x1="1753.3" y1="837" x2="1771.7" y2="837" stroke="#000" stroke-width="3"/>
<circle cx="1762.5" cy="736.89" r="2.6"/>
<circle cx="1762.5" cy="793.41" r="2.6"/>
<circle cx="1762.5" cy="821.71" r="2.6"/>
<circle cx="1762.5" cy="852.2" r="2.6"/>
<circle cx="1762.5" cy="865.55" r="2.6"/>
<circle cx="1762.5" cy="876.91" r="2.6"/>
<line x1="1789.8" y1="688.1" x2="1789.8" y2="697.4" stroke="#0000ff" stroke-width="3"/>
<line x1="1785" y1="688.1" x2="1794.6" y2="688.1" stroke="#0000ff" stroke-width="3"/>
<line x1="1789.8" y1="799" x2="1789.8" y2="806.8" stroke="#0000ff" stroke-width="3"/>
<line x1="1785" y1="806.8" x2="1794.6" y2="806.8" stroke="#0000ff" stroke-width="3"/>
<rect x="1780.6" y="697.4" width="18.4" height="101.6" fill="#fff" stroke="#0000ff" stroke-width="3"/>
<line x1="1780.6" y1="746.8" x2="1799" y2="746.8" stroke="#0000ff" stroke-width="3"/>
<circle cx="1789.8" cy="688.07" r="2.6"/>
<circle cx="1789.8" cy="700.02" r="2.6"/>
<circle cx="1789.8" cy="710.39" r="2.6"/>
<circle cx="1789.8" cy="783.44" r="2.6"/>
<circle cx="1789.8" cy="796.8" r="2.6"/>
<circle cx="1789.8" cy="806.76" r="2.6"/>
<line x1="961.8" y1="688.5" x2="994.7" y2="688.5" stroke="#000" stroke-width="3"/>
<text x="977.8" y="679.3" font-size="24.3" text-anchor="middle">n.s</text>
<line x1="1035" y1="604.4" x2="1067.9" y2="604.4" stroke="#000" stroke-width="3"/>
<text x="1005.3" y="596.4" font-size="20.5" text-anchor="start"><tspan font-style="italic">p</tspan>=0.0322</text>
<line x1="1109.3" y1="601.2" x2="1142.2" y2="601.2" stroke="#000" stroke-width="3"/>
<text x="1125.2" y="593.2" font-size="24.3" text-anchor="middle">n.s</text>
<line x1="1179.5" y1="624.1" x2="1212.5" y2="624.1" stroke="#000" stroke-width="3"/>
<text x="1153.6" y="615.3" font-size="20.5" text-anchor="start"><tspan font-style="italic">p</tspan>=0.0438</text>
<line x1="1250.9" y1="590.4" x2="1284.2" y2="590.4" stroke="#000" stroke-width="3"/>
<text x="1225.6" y="581.8" font-size="20.5" text-anchor="start"><tspan font-style="italic">p</tspan>=0.0082</text>
<line x1="1327" y1="740.3" x2="1359.9" y2="740.3" stroke="#000" stroke-width="3"/>
<text x="1344" y="733.1" font-size="24.3" text-anchor="middle">n.s</text>
<line x1="1396.8" y1="644.6" x2="1429.6" y2="644.6" stroke="#000" stroke-width="3"/>
<text x="1369.9" y="637.1" font-size="20.5" text-anchor="start"><tspan font-style="italic">p</tspan>=0.0486</text>
<line x1="1469.1" y1="671.1" x2="1502" y2="671.1" stroke="#000" stroke-width="3"/>
<text x="1447.2" y="663.2" font-size="20.5" text-anchor="start"><tspan font-style="italic">p</tspan>=0.0880</text>
<line x1="1539.9" y1="626.1" x2="1573.2" y2="626.1" stroke="#000" stroke-width="3"/>
<text x="1513.7" y="619.1" font-size="20.5" text-anchor="start"><tspan font-style="italic">p</tspan>=0.0379</text>
<line x1="1612.1" y1="649.6" x2="1645.1" y2="649.6" stroke="#000" stroke-width="3"/>
<text x="1588.2" y="642.6" font-size="20.5" text-anchor="start"><tspan font-style="italic">p</tspan>=0.0750</text>
<line x1="1682.4" y1="616.7" x2="1715.7" y2="616.7" stroke="#000" stroke-width="3"/>
<text x="1653.1" y="609.8" font-size="20.5" text-anchor="start"><tspan font-style="italic">p</tspan>=0.0478</text>
<line x1="1757.1" y1="675.1" x2="1790.4" y2="675.1" stroke="#000" stroke-width="3"/>
<text x="1733.6" y="667.9" font-size="20.5" text-anchor="start"><tspan font-style="italic">p</tspan>=0.0307</text>
<text x="-1" y="1144.3" font-size="41" text-anchor="start">d</text>
<text x="65" y="1175.7" font-size="26.5" text-anchor="start">kDa</text>
<text x="231" y="1173.3" font-size="27" text-anchor="middle">WT</text>
<text x="430" y="1173.3" font-size="27.6" text-anchor="middle">CAG-<tspan font-style="italic">Caren</tspan> Tg</text>
<line x1="127" y1="1182.5" x2="313.4" y2="1182.5" stroke="#000" stroke-width="3.8"/>
<line x1="324.5" y1="1182.5" x2="543" y2="1182.5" stroke="#000" stroke-width="3.8"/>
<rect x="124.5" y="1190.3" width="425.7" height="62.7" fill="#fbfbfb"/>
<g clip-path="url(#bc1)"><g filter="url(#bl2)">
<path d="M136 1223.6 C138.94 1217.55 145.8 1217.88 160.5 1218.1 S182.06 1217.55 185 1223.6 S175.2 1229.32 160.5 1229.1 S138.94 1229.65 136 1223.6Z" fill="#000" opacity="0.95"/>
<path d="M203 1224.5 C205.94 1219.55 212.8 1219.82 227.5 1220 S249.06 1219.55 252 1224.5 S242.2 1229.18 227.5 1229 S205.94 1229.45 203 1224.5Z" fill="#000" opacity="0.8"/>
<path d="M222 1224.5 C223.8 1217.9 228 1218.26 237 1218.5 S250.2 1217.9 252 1224.5 S246 1230.74 237 1230.5 S223.8 1231.1 222 1224.5Z" fill="#000" opacity="0.7"/>
<path d="M268 1224.5 C270.94 1220.1 277.8 1220.34 292.5 1220.5 S314.06 1220.1 317 1224.5 S307.2 1228.66 292.5 1228.5 S270.94 1228.9 268 1224.5Z" fill="#000" opacity="0.7"/>
<path d="M285 1224 C286.92 1217.4 291.4 1217.76 301 1218 S315.08 1217.4 317 1224 S310.6 1230.24 301 1230 S286.92 1230.6 285 1224Z" fill="#000" opacity="0.8"/>
<path d="M324 1223 C328.02 1213.65 337.4 1214.16 357.5 1214.5 S386.98 1213.65 391 1223 S377.6 1231.84 357.5 1231.5 S328.02 1232.35 324 1223Z" fill="#000" opacity="1"/>
<path d="M397 1222.3 C401.26 1211.85 411.2 1212.42 432.5 1212.8 S463.74 1211.85 468 1222.3 S453.8 1232.18 432.5 1231.8 S401.26 1232.75 397 1222.3Z" fill="#000" opacity="1"/>
<path d="M471 1223 C475.26 1213.1 485.2 1213.64 506.5 1214 S537.74 1213.1 542 1223 S527.8 1232.36 506.5 1232 S475.26 1232.9 471 1223Z" fill="#000" opacity="1"/>
<path d="M500 1223 C502.58 1210.35 508.6 1211.04 521.5 1211.5 S540.42 1210.35 543 1223 S534.4 1234.96 521.5 1234.5 S502.58 1235.65 500 1223Z" fill="#000" opacity="1"/>
</g></g>
<rect x="126.9" y="1192.7" width="420.9" height="57.9" fill="none" stroke="#000" stroke-width="4.8"/>
<rect x="124.5" y="1262" width="425.7" height="62.4" fill="#fbfbfb"/>
<g clip-path="url(#bc2)"><g filter="url(#bl2)">
<path d="M138 1294 C141.3 1286.85 149 1287.24 165.5 1287.5 S189.7 1286.85 193 1294 S182 1300.76 165.5 1300.5 S141.3 1301.15 138 1294Z" fill="#000" opacity="0.85"/>
<path d="M203 1294.5 C206.36 1286.8 214.2 1287.22 231 1287.5 S255.64 1286.8 259 1294.5 S247.8 1301.78 231 1301.5 S206.36 1302.2 203 1294.5Z" fill="#000" opacity="0.9"/>
<path d="M228 1295 C229.86 1285.65 234.2 1286.16 243.5 1286.5 S257.14 1285.65 259 1295 S252.8 1303.84 243.5 1303.5 S229.86 1304.35 228 1295Z" fill="#000" opacity="0.7"/>
<path d="M270 1295 C273.06 1288.95 280.2 1289.28 295.5 1289.5 S317.94 1288.95 321 1295 S310.8 1300.72 295.5 1300.5 S273.06 1301.05 270 1295Z" fill="#000" opacity="0.75"/>
<path d="M288 1294.5 C289.98 1285.7 294.6 1286.18 304.5 1286.5 S319.02 1285.7 321 1294.5 S314.4 1302.82 304.5 1302.5 S289.98 1303.3 288 1294.5Z" fill="#000" opacity="0.8"/>
<path d="M328 1293 C332.08 1281.45 341.6 1282.08 362 1282.5 S391.92 1281.45 396 1293 S382.4 1303.92 362 1303.5 S332.08 1304.55 328 1293Z" fill="#000" opacity="1"/>
<path d="M335 1290 C337.7 1276.8 344 1277.52 357.5 1278 S377.3 1276.8 380 1290 S371 1302.48 357.5 1302 S337.7 1303.2 335 1290Z" fill="#000" opacity="0.8"/>
<path d="M404 1294.5 C407.78 1284.05 416.6 1284.62 435.5 1285 S463.22 1284.05 467 1294.5 S454.4 1304.38 435.5 1304 S407.78 1304.95 404 1294.5Z" fill="#000" opacity="1"/>
<path d="M478 1293.5 C481.78 1283.6 490.6 1284.14 509.5 1284.5 S537.22 1283.6 541 1293.5 S528.4 1302.86 509.5 1302.5 S481.78 1303.4 478 1293.5Z" fill="#000" opacity="0.95"/>
</g></g>
<rect x="126.9" y="1264.4" width="420.9" height="57.6" fill="none" stroke="#000" stroke-width="4.8"/>
<rect x="124.5" y="1332.2" width="425.7" height="63.1" fill="#fbfbfb"/>
<g clip-path="url(#bc3)"><g filter="url(#bl2)">
<path d="M134 1361 C137.48 1354.95 145.6 1355.28 163 1355.5 S188.52 1354.95 192 1361 S180.4 1366.72 163 1366.5 S137.48 1367.05 134 1361Z" fill="#000" opacity="0.9" transform="rotate(6 163 1361)"/>
<path d="M206 1366 C209.36 1358.3 217.2 1358.72 234 1359 S258.64 1358.3 262 1366 S250.8 1373.28 234 1373 S209.36 1373.7 206 1366Z" fill="#000" opacity="0.95"/>
<path d="M274 1366 C277.24 1357.75 284.8 1358.2 301 1358.5 S324.76 1357.75 328 1366 S317.2 1373.8 301 1373.5 S277.24 1374.25 274 1366Z" fill="#000" opacity="0.95"/>
<path d="M339 1366 C342.78 1348.4 351.6 1349.36 370.5 1350 S398.22 1348.4 402 1366 S389.4 1382.64 370.5 1382 S342.78 1383.6 339 1366Z" fill="#000" opacity="1"/>
<path d="M345 1352 C348 1341 355 1341.6 370 1342 S392 1341 395 1352 S385 1362.4 370 1362 S348 1363 345 1352Z" fill="#000" opacity="0.55"/>
<path d="M408 1366 C411.78 1350.05 420.6 1350.92 439.5 1351.5 S467.22 1350.05 471 1366 S458.4 1381.08 439.5 1380.5 S411.78 1381.95 408 1366Z" fill="#000" opacity="1"/>
<path d="M415 1352 C418 1342.1 425 1342.64 440 1343 S462 1342.1 465 1352 S455 1361.36 440 1361 S418 1361.9 415 1352Z" fill="#000" opacity="0.5"/>
<path d="M477 1363 C480.9 1349.8 490 1350.52 509.5 1351 S538.1 1349.8 542 1363 S529 1375.48 509.5 1375 S480.9 1376.2 477 1363Z" fill="#000" opacity="1"/>
</g></g>
<rect x="126.9" y="1334.6" width="420.9" height="58.3" fill="none" stroke="#000" stroke-width="4.8"/>
<rect x="124.5" y="1403.3" width="425.7" height="63.1" fill="#fbfbfb"/>
<g clip-path="url(#bc4)"><g filter="url(#bl2)">
<path d="M139 1439.5 C142.24 1429.6 149.8 1430.14 166 1430.5 S189.76 1429.6 193 1439.5 S182.2 1448.86 166 1448.5 S142.24 1449.4 139 1439.5Z" fill="#000" opacity="0.95"/>
<path d="M206 1441 C209.36 1429.45 217.2 1430.08 234 1430.5 S258.64 1429.45 262 1441 S250.8 1451.92 234 1451.5 S209.36 1452.55 206 1441Z" fill="#000" opacity="1"/>
<path d="M272 1442 C275.06 1432.65 282.2 1433.16 297.5 1433.5 S319.94 1432.65 323 1442 S312.8 1450.84 297.5 1450.5 S275.06 1451.35 272 1442Z" fill="#000" opacity="0.95"/>
<rect x="331" y="1421" width="212" height="38" rx="20" ry="20" fill="#000" opacity="1"/>
<path d="M334 1434 C338.08 1410.9 347.6 1412.16 368 1413 S397.92 1410.9 402 1434 S388.4 1455.84 368 1455 S338.08 1457.1 334 1434Z" fill="#000" opacity="1"/>
<path d="M400 1435 C404.32 1411.35 414.4 1412.64 436 1413.5 S467.68 1411.35 472 1435 S457.6 1457.36 436 1456.5 S404.32 1458.65 400 1435Z" fill="#000" opacity="1"/>
<path d="M468 1433 C472.68 1408.25 483.6 1409.6 507 1410.5 S541.32 1408.25 546 1433 S530.4 1456.4 507 1455.5 S472.68 1457.75 468 1433Z" fill="#000" opacity="1"/>
<rect x="335" y="1437" width="208" height="24" rx="13" ry="13" fill="#000" opacity="1"/>
</g></g>
<rect x="126.9" y="1405.7" width="420.9" height="58.3" fill="none" stroke="#000" stroke-width="4.8"/>
<rect x="124.5" y="1474.2" width="425.7" height="63" fill="#fbfbfb"/>
<g clip-path="url(#bc5)"><g filter="url(#bl2)">
<path d="M139 1513 C142.9 1504.75 152 1505.2 171.5 1505.5 S200.1 1504.75 204 1513 S191 1520.8 171.5 1520.5 S142.9 1521.25 139 1513Z" fill="#000" opacity="1"/>
<path d="M211 1513 C214.78 1504.75 223.6 1505.2 242.5 1505.5 S270.22 1504.75 274 1513 S261.4 1520.8 242.5 1520.5 S214.78 1521.25 211 1513Z" fill="#000" opacity="1"/>
<path d="M278 1513 C281.3 1505.3 289 1505.72 305.5 1506 S329.7 1505.3 333 1513 S322 1520.28 305.5 1520 S281.3 1520.7 278 1513Z" fill="#000" opacity="1"/>
<path d="M339 1516.5 C340.92 1502.75 345.4 1503.5 355 1504 S369.08 1502.75 371 1516.5 S364.6 1529.5 355 1529 S340.92 1530.25 339 1516.5Z" fill="#000" opacity="1"/>
<path d="M360 1509 C362.64 1498.55 368.8 1499.12 382 1499.5 S401.36 1498.55 404 1509 S395.2 1518.88 382 1518.5 S362.64 1519.45 360 1509Z" fill="#000" opacity="0.72"/>
<polygon points="411,1515 425,1509 440,1501 455,1497 470,1498 476,1506 472,1515 450,1519 425,1520" fill="#000" opacity="1" stroke="#000" stroke-width="3" stroke-linejoin="round"/>
<polygon points="478,1511 492,1504 508,1500 520,1492 530,1489 536,1494 542,1503 536,1512 515,1517 490,1519" fill="#000" opacity="1" stroke="#000" stroke-width="3" stroke-linejoin="round"/>
</g></g>
<rect x="126.9" y="1476.6" width="420.9" height="58.2" fill="none" stroke="#000" stroke-width="4.8"/>
<rect x="124.5" y="1545" width="425.7" height="63" fill="#fbfbfb"/>
<g clip-path="url(#bc6)"><g filter="url(#bl2)">
<path d="M138 1573 C141.54 1566.12 149.8 1566.5 167.5 1566.75 S193.46 1566.12 197 1573 S185.2 1579.5 167.5 1579.25 S141.54 1579.88 138 1573Z" fill="#000" opacity="1" transform="rotate(4 167.5 1573)"/>
<path d="M211 1577 C214.3 1571.22 222 1571.54 238.5 1571.75 S262.7 1571.22 266 1577 S255 1582.46 238.5 1582.25 S214.3 1582.78 211 1577Z" fill="#000" opacity="0.95"/>
<path d="M279 1578 C282.18 1571.67 289.6 1572.02 305.5 1572.25 S328.82 1571.67 332 1578 S321.4 1583.98 305.5 1583.75 S282.18 1584.33 279 1578Z" fill="#000" opacity="1"/>
<path d="M346 1578.5 C349.18 1572.17 356.6 1572.52 372.5 1572.75 S395.82 1572.17 399 1578.5 S388.4 1584.48 372.5 1584.25 S349.18 1584.83 346 1578.5Z" fill="#000" opacity="1"/>
<path d="M414 1578.5 C417.12 1572.72 424.4 1573.04 440 1573.25 S462.88 1572.72 466 1578.5 S455.6 1583.96 440 1583.75 S417.12 1584.28 414 1578.5Z" fill="#000" opacity="1"/>
<path d="M481 1578 C484.18 1572.22 491.6 1572.54 507.5 1572.75 S530.82 1572.22 534 1578 S523.4 1583.46 507.5 1583.25 S484.18 1583.78 481 1578Z" fill="#000" opacity="0.95"/>
</g></g>
<rect x="126.9" y="1547.4" width="420.9" height="58.2" fill="none" stroke="#000" stroke-width="4.8"/>
<text x="98.5" y="1224.7" font-size="26" text-anchor="end">21</text>
<line x1="106.5" y1="1217" x2="125" y2="1217" stroke="#000" stroke-width="4"/>
<text x="98.5" y="1301.8" font-size="26" text-anchor="end">28</text>
<line x1="106.5" y1="1293.6" x2="125" y2="1293.6" stroke="#000" stroke-width="4"/>
<text x="98.5" y="1365.6" font-size="26" text-anchor="end">48</text>
<line x1="106.5" y1="1357.8" x2="125" y2="1357.8" stroke="#000" stroke-width="4"/>
<text x="98.5" y="1458.8" font-size="26" text-anchor="end">35</text>
<line x1="106.5" y1="1451.9" x2="125" y2="1451.9" stroke="#000" stroke-width="4"/>
<text x="98.5" y="1498.7" font-size="26" text-anchor="end">64</text>
<line x1="106.5" y1="1490.9" x2="125" y2="1490.9" stroke="#000" stroke-width="4"/>
<text x="98.5" y="1590.5" font-size="26" text-anchor="end">64</text>
<line x1="106.5" y1="1581.8" x2="125" y2="1581.8" stroke="#000" stroke-width="4"/>
<text x="560.8" y="1230.7" font-size="27.5" text-anchor="start">C I-NDUFB8</text>
<text x="560.8" y="1301.8" font-size="27.5" text-anchor="start">C II-SDHB</text>
<text x="560.8" y="1373" font-size="27.5" text-anchor="start">C III-UQCRC2</text>
<text x="560.8" y="1444" font-size="27.5" text-anchor="start">C IV-MTCO1</text>
<text x="560.8" y="1516" font-size="27.5" text-anchor="start">C V-ATP5A</text>
<text x="560.8" y="1587.3" font-size="27.5" text-anchor="start">Hsc70</text>
<line x1="895.6" y1="1197.1" x2="895.6" y2="1569.7" stroke="#000" stroke-width="3.5"/>
<line x1="893.85" y1="1567.9" x2="1449" y2="1567.9" stroke="#000" stroke-width="3.7"/>
<line x1="888.1" y1="1567.6" x2="895.6" y2="1567.6" stroke="#000" stroke-width="3"/>
<text x="882.5" y="1577.1" font-size="26.5" text-anchor="end">0</text>
<line x1="888.1" y1="1444.7" x2="895.6" y2="1444.7" stroke="#000" stroke-width="3"/>
<text x="882.5" y="1454.2" font-size="26.5" text-anchor="end">1</text>
<line x1="888.1" y1="1321.8" x2="895.6" y2="1321.8" stroke="#000" stroke-width="3"/>
<text x="882.5" y="1331.3" font-size="26.5" text-anchor="end">2</text>
<line x1="888.1" y1="1198.9" x2="895.6" y2="1198.9" stroke="#000" stroke-width="3"/>
<text x="882.5" y="1208.4" font-size="26.5" text-anchor="end">3</text>
<text x="837.5" y="1381" font-size="31" text-anchor="middle" transform="rotate(-90 837.5 1381)">Relative protein level</text>
<line x1="949.4" y1="1567.6" x2="949.4" y2="1576.1" stroke="#000" stroke-width="3"/>
<text x="957.9" y="1594.6" font-size="27.8" text-anchor="end" transform="rotate(-45 957.9 1594.6)">C I-NDUFB8</text>
<line x1="1060.2" y1="1567.6" x2="1060.2" y2="1576.1" stroke="#000" stroke-width="3"/>
<text x="1068.7" y="1594.6" font-size="27.8" text-anchor="end" transform="rotate(-45 1068.7 1594.6)">C II-SDHB</text>
<line x1="1170.6" y1="1567.6" x2="1170.6" y2="1576.1" stroke="#000" stroke-width="3"/>
<text x="1179.1" y="1594.6" font-size="27.8" text-anchor="end" transform="rotate(-45 1179.1 1594.6)">C III-UQCRC2</text>
<line x1="1281.4" y1="1567.6" x2="1281.4" y2="1576.1" stroke="#000" stroke-width="3"/>
<text x="1289.9" y="1594.6" font-size="27.8" text-anchor="end" transform="rotate(-45 1289.9 1594.6)">C IV-MTCO1</text>
<line x1="1391.8" y1="1567.6" x2="1391.8" y2="1576.1" stroke="#000" stroke-width="3"/>
<text x="1400.3" y="1594.6" font-size="27.8" text-anchor="end" transform="rotate(-45 1400.3 1594.6)">C V-ATP5A</text>
<line x1="929.9" y1="1413" x2="929.9" y2="1444.9" stroke="#000" stroke-width="2.4"/>
<line x1="922.9" y1="1413" x2="936.9" y2="1413" stroke="#000" stroke-width="2.4"/>
<rect x="916.25" y="1444.75" width="27.3" height="122.85" fill="#fff" stroke="#000" stroke-width="3.7"/>
<circle cx="929.5" cy="1404.21" r="3.7"/>
<circle cx="929.5" cy="1417.68" r="3.7"/>
<circle cx="924.32" cy="1442" r="3.7"/>
<circle cx="934.8" cy="1445.19" r="3.7"/>
<circle cx="924.72" cy="1483.13" r="3.7"/>
<circle cx="934.68" cy="1479.54" r="3.7"/>
<line x1="970.95" y1="1345.2" x2="970.95" y2="1368.3" stroke="#000" stroke-width="2.4"/>
<line x1="963.95" y1="1345.2" x2="977.95" y2="1345.2" stroke="#000" stroke-width="2.4"/>
<rect x="957.25" y="1368.15" width="27.4" height="199.45" fill="#0000ff" stroke="#000" stroke-width="3.7"/>
<circle cx="970.95" cy="1330.48" r="3.7"/>
<circle cx="970.95" cy="1366.35" r="3.7"/>
<circle cx="962.18" cy="1383.89" r="3.7"/>
<circle cx="970.95" cy="1390.26" r="3.7"/>
<circle cx="979.32" cy="1388.27" r="3.7"/>
<circle cx="970.95" cy="1353.99" r="3.7"/>
<line x1="1040.3" y1="1426.1" x2="1040.3" y2="1444.9" stroke="#000" stroke-width="2.4"/>
<line x1="1033.3" y1="1426.1" x2="1047.3" y2="1426.1" stroke="#000" stroke-width="2.4"/>
<rect x="1026.25" y="1444.75" width="28.1" height="122.85" fill="#fff" stroke="#000" stroke-width="3.7"/>
<circle cx="1040.3" cy="1417.37" r="3.7"/>
<circle cx="1034.32" cy="1436.9" r="3.7"/>
<circle cx="1045.08" cy="1436.1" r="3.7"/>
<circle cx="1034.32" cy="1448.85" r="3.7"/>
<circle cx="1045.08" cy="1458.02" r="3.7"/>
<circle cx="1040.3" cy="1471.57" r="3.7"/>
<line x1="1081.55" y1="1353.2" x2="1081.55" y2="1385" stroke="#000" stroke-width="2.4"/>
<line x1="1074.55" y1="1353.2" x2="1088.55" y2="1353.2" stroke="#000" stroke-width="2.4"/>
<rect x="1068.05" y="1384.85" width="27" height="182.75" fill="#0000ff" stroke="#000" stroke-width="3.7"/>
<circle cx="1076.17" cy="1348.02" r="3.7"/>
<circle cx="1086.93" cy="1354.39" r="3.7"/>
<circle cx="1081.75" cy="1374.32" r="3.7"/>
<circle cx="1081.75" cy="1391.06" r="3.7"/>
<circle cx="1086.93" cy="1416.97" r="3.7"/>
<circle cx="1076.17" cy="1426.13" r="3.7"/>
<line x1="1150.7" y1="1428.9" x2="1150.7" y2="1444.9" stroke="#000" stroke-width="2.4"/>
<line x1="1143.7" y1="1428.9" x2="1157.7" y2="1428.9" stroke="#000" stroke-width="2.4"/>
<rect x="1137.05" y="1444.75" width="27.3" height="122.85" fill="#fff" stroke="#000" stroke-width="3.7"/>
<circle cx="1141.53" cy="1440.6" r="3.7"/>
<circle cx="1145.52" cy="1434.98" r="3.7"/>
<circle cx="1156" cy="1431.99" r="3.7"/>
<circle cx="1159.39" cy="1438.21" r="3.7"/>
<circle cx="1150.7" cy="1447.62" r="3.7"/>
<circle cx="1150.7" cy="1476.11" r="3.7"/>
<line x1="1192.15" y1="1285.4" x2="1192.15" y2="1328" stroke="#000" stroke-width="2.4"/>
<line x1="1185.15" y1="1285.4" x2="1199.15" y2="1285.4" stroke="#000" stroke-width="2.4"/>
<rect x="1178.45" y="1327.85" width="27.4" height="239.75" fill="#0000ff" stroke="#000" stroke-width="3.7"/>
<circle cx="1192.15" cy="1270.69" r="3.7"/>
<circle cx="1192.15" cy="1284.64" r="3.7"/>
<circle cx="1192.15" cy="1324.5" r="3.7"/>
<circle cx="1192.15" cy="1345.23" r="3.7"/>
<circle cx="1186.57" cy="1372.33" r="3.7"/>
<circle cx="1197.33" cy="1372.33" r="3.7"/>
<line x1="1261.1" y1="1428.9" x2="1261.1" y2="1444.9" stroke="#000" stroke-width="2.4"/>
<line x1="1254.1" y1="1428.9" x2="1268.1" y2="1428.9" stroke="#000" stroke-width="2.4"/>
<rect x="1247.45" y="1444.75" width="27.3" height="122.85" fill="#fff" stroke="#000" stroke-width="3.7"/>
<circle cx="1261.1" cy="1416.97" r="3.7"/>
<circle cx="1252.34" cy="1444.87" r="3.7"/>
<circle cx="1270.27" cy="1442.08" r="3.7"/>
<circle cx="1265.09" cy="1448.85" r="3.7"/>
<circle cx="1256.32" cy="1460.81" r="3.7"/>
<circle cx="1265.49" cy="1456.82" r="3.7"/>
<line x1="1302.75" y1="1216.9" x2="1302.75" y2="1250.4" stroke="#000" stroke-width="2.4"/>
<line x1="1295.75" y1="1216.9" x2="1309.75" y2="1216.9" stroke="#000" stroke-width="2.4"/>
<rect x="1288.85" y="1250.25" width="27.8" height="317.35" fill="#0000ff" stroke="#000" stroke-width="3.7"/>
<circle cx="1302.95" cy="1207.72" r="3.7"/>
<circle cx="1307.34" cy="1224.46" r="3.7"/>
<circle cx="1297.77" cy="1229.64" r="3.7"/>
<circle cx="1302.95" cy="1274.28" r="3.7"/>
<circle cx="1307.34" cy="1280.26" r="3.7"/>
<circle cx="1296.97" cy="1286.64" r="3.7"/>
<line x1="1371.5" y1="1426.9" x2="1371.5" y2="1444.9" stroke="#000" stroke-width="2.4"/>
<line x1="1364.5" y1="1426.9" x2="1378.5" y2="1426.9" stroke="#000" stroke-width="2.4"/>
<rect x="1357.85" y="1444.75" width="27.3" height="122.85" fill="#fff" stroke="#000" stroke-width="3.7"/>
<circle cx="1363.93" cy="1427.73" r="3.7"/>
<circle cx="1371.51" cy="1438.89" r="3.7"/>
<circle cx="1380.67" cy="1436.9" r="3.7"/>
<circle cx="1376.69" cy="1448.85" r="3.7"/>
<circle cx="1371.51" cy="1478.74" r="3.7"/>
<circle cx="1367.12" cy="1444.87" r="3.7"/>
<line x1="1412.95" y1="1316.5" x2="1412.95" y2="1365.2" stroke="#000" stroke-width="2.4"/>
<line x1="1405.95" y1="1316.5" x2="1419.95" y2="1316.5" stroke="#000" stroke-width="2.4"/>
<rect x="1399.25" y="1365.05" width="27.4" height="202.55" fill="#0000ff" stroke="#000" stroke-width="3.7"/>
<circle cx="1412.96" cy="1302.18" r="3.7"/>
<circle cx="1412.96" cy="1317.33" r="3.7"/>
<circle cx="1412.96" cy="1357.98" r="3.7"/>
<circle cx="1407.38" cy="1389.86" r="3.7"/>
<circle cx="1418.14" cy="1401.02" r="3.7"/>
<circle cx="1412.96" cy="1423.74" r="3.7"/>
<line x1="925.5" y1="1309.4" x2="973.3" y2="1309.4" stroke="#000" stroke-width="3"/>
<text x="956.5" y="1299.4" font-size="27.3" text-anchor="start" transform="rotate(-90 956.5 1299.4)"><tspan font-style="italic">p</tspan>=0.0008</text>
<line x1="1039.9" y1="1325.3" x2="1079.8" y2="1325.3" stroke="#000" stroke-width="3"/>
<text x="1064.8" y="1314.5" font-size="27.3" text-anchor="start" transform="rotate(-90 1064.8 1314.5)"><tspan font-style="italic">p</tspan>=0.0030</text>
<line x1="1147.5" y1="1249.6" x2="1193.3" y2="1249.6" stroke="#000" stroke-width="3"/>
<text x="1175.7" y="1239.6" font-size="27.3" text-anchor="start" transform="rotate(-90 1175.7 1239.6)"><tspan font-style="italic">p</tspan>=0.0001</text>
<line x1="1259.5" y1="1188.6" x2="1302.2" y2="1188.6" stroke="#000" stroke-width="3"/>
<text x="1281.4" y="1176" font-size="30" text-anchor="middle">†</text>
<line x1="1377.9" y1="1284.6" x2="1413" y2="1284.6" stroke="#000" stroke-width="3"/>
<text x="1400.3" y="1272.7" font-size="27.3" text-anchor="start" transform="rotate(-90 1400.3 1272.7)"><tspan font-style="italic">p</tspan>=0.0035</text>
<rect x="1469.5" y="1158.3" width="40.4" height="20.9" fill="#fff" stroke="#000" stroke-width="3.4"/>
<text x="1522" y="1178.5" font-size="27.6" text-anchor="start">WT</text>
<rect x="1469.5" y="1196.2" width="40.4" height="20.5" fill="#0000ff" stroke="#000" stroke-width="3.4"/>
<text x="1522" y="1216.8" font-size="27.6" text-anchor="start">CAG-<tspan font-style="italic">Caren</tspan> Tg</text>
<text x="0.9" y="1739" font-size="36" text-anchor="start" font-family="Noto Sans CJK SC, Liberation Sans, sans-serif">e</text>
<text x="9.7" y="1796.6" font-size="27" text-anchor="start">kDa</text>
<text x="187" y="1796.6" font-size="27" text-anchor="middle">WT</text>
<text x="393" y="1796.6" font-size="27.8" text-anchor="middle">CAG-<tspan font-style="italic">Caren</tspan> Tg</text>
<line x1="80" y1="1809" x2="281.4" y2="1809" stroke="#000" stroke-width="3.5"/>
<line x1="286.8" y1="1809" x2="506.3" y2="1809" stroke="#000" stroke-width="3.5"/>
<rect x="76" y="1817.9" width="433" height="72.6" fill="#f7f7f7"/>
<g clip-path="url(#bc7)"><g filter="url(#bl2)">
<path d="M87 1858.5 C90.12 1853.55 97.4 1853.82 113 1854 S135.88 1853.55 139 1858.5 S128.6 1863.18 113 1863 S90.12 1863.45 87 1858.5Z" fill="#000" opacity="0.28"/>
<path d="M90 1863 C92.76 1857.5 99.2 1857.8 113 1858 S133.24 1857.5 136 1863 S126.8 1868.2 113 1868 S92.76 1868.5 90 1863Z" fill="#000" opacity="0.1"/>
<path d="M155 1858 C158 1853.6 165 1853.84 180 1854 S202 1853.6 205 1858 S195 1862.16 180 1862 S158 1862.4 155 1858Z" fill="#000" opacity="0.22"/>
<path d="M158 1863 C160.7 1857.5 167 1857.8 180.5 1858 S200.3 1857.5 203 1863 S194 1868.2 180.5 1868 S160.7 1868.5 158 1863Z" fill="#000" opacity="0.08"/>
<path d="M228 1858 C231.12 1853.6 238.4 1853.84 254 1854 S276.88 1853.6 280 1858 S269.6 1862.16 254 1862 S231.12 1862.4 228 1858Z" fill="#000" opacity="0.25"/>
<path d="M250 1856 C251.8 1852.15 256 1852.36 265 1852.5 S278.2 1852.15 280 1856 S274 1859.64 265 1859.5 S251.8 1859.85 250 1856Z" fill="#000" opacity="0.35"/>
<path d="M290 1857 C293.6 1848.75 302 1849.2 320 1849.5 S346.4 1848.75 350 1857 S338 1864.8 320 1864.5 S293.6 1865.25 290 1857Z" fill="#000" opacity="0.95"/>
<path d="M363 1855 C366.72 1848.4 375.4 1848.76 394 1849 S421.28 1848.4 425 1855 S412.6 1861.24 394 1861 S366.72 1861.6 363 1855Z" fill="#000" opacity="0.9"/>
<path d="M431 1852 C434.72 1845.4 443.4 1845.76 462 1846 S489.28 1845.4 493 1852 S480.6 1858.24 462 1858 S434.72 1858.6 431 1852Z" fill="#000" opacity="0.9"/>
</g></g>
<rect x="78.4" y="1820.3" width="428.2" height="67.8" fill="none" stroke="#000" stroke-width="4.8"/>
<rect x="76" y="1897.1" width="433" height="72.3" fill="#fcfcfc"/>
<g clip-path="url(#bc8)"><g filter="url(#bl15)">
<path d="M85 1935 C88 1929.5 95 1929.8 110 1930 S132 1929.5 135 1935 S125 1940.2 110 1940 S88 1940.5 85 1935Z" fill="#000" opacity="1"/>
<path d="M154.6 1936 C157.73 1930.5 165.04 1930.8 180.7 1931 S203.67 1930.5 206.8 1936 S196.36 1941.2 180.7 1941 S157.73 1941.5 154.6 1936Z" fill="#000" opacity="1"/>
<path d="M226 1936 C229.12 1931.33 236.4 1931.58 252 1931.75 S274.88 1931.33 278 1936 S267.6 1940.42 252 1940.25 S229.12 1940.67 226 1936Z" fill="#000" opacity="1"/>
<path d="M295.7 1936 C299.06 1930.5 306.9 1930.8 323.7 1931 S348.34 1930.5 351.7 1936 S340.5 1941.2 323.7 1941 S299.06 1941.5 295.7 1936Z" fill="#000" opacity="1"/>
<path d="M369 1934.5 C372.24 1929 379.8 1929.3 396 1929.5 S419.76 1929 423 1934.5 S412.2 1939.7 396 1939.5 S372.24 1940 369 1934.5Z" fill="#000" opacity="1" transform="rotate(-3 396 1934.5)"/>
<path d="M440.6 1932 C443.96 1927.05 451.8 1927.32 468.6 1927.5 S493.24 1927.05 496.6 1932 S485.4 1936.68 468.6 1936.5 S443.96 1936.95 440.6 1932Z" fill="#000" opacity="1" transform="rotate(-3 468.6 1932)"/>
</g></g>
<rect x="78.4" y="1899.5" width="428.2" height="67.5" fill="none" stroke="#000" stroke-width="4.8"/>
<text x="49.5" y="1841.8" font-size="27" text-anchor="end">28</text>
<line x1="61.8" y1="1834.5" x2="77" y2="1834.5" stroke="#000" stroke-width="4"/>
<text x="49.5" y="1953.1" font-size="27" text-anchor="end">64</text>
<line x1="59.5" y1="1945.4" x2="77" y2="1945.4" stroke="#000" stroke-width="4"/>
<text x="519" y="1864.3" font-size="27" text-anchor="start">Tfam</text>
<text x="519" y="1945.4" font-size="27" text-anchor="start">Hsc70</text>
<line x1="244.4" y1="2040.5" x2="244.4" y2="2318.4" stroke="#000" stroke-width="4"/>
<line x1="236" y1="2316.4" x2="409.2" y2="2316.4" stroke="#000" stroke-width="4"/>
<line x1="236" y1="2316.4" x2="244.4" y2="2316.4" stroke="#000" stroke-width="4"/>
<text x="228.6" y="2326.4" font-size="28" text-anchor="end">0.0</text>
<line x1="236" y1="2261.62" x2="244.4" y2="2261.62" stroke="#000" stroke-width="4"/>
<text x="228.6" y="2271.62" font-size="28" text-anchor="end">0.5</text>
<line x1="236" y1="2206.84" x2="244.4" y2="2206.84" stroke="#000" stroke-width="4"/>
<text x="228.6" y="2216.84" font-size="28" text-anchor="end">1.0</text>
<line x1="236" y1="2152.06" x2="244.4" y2="2152.06" stroke="#000" stroke-width="4"/>
<text x="228.6" y="2162.06" font-size="28" text-anchor="end">1.5</text>
<line x1="236" y1="2097.28" x2="244.4" y2="2097.28" stroke="#000" stroke-width="4"/>
<text x="228.6" y="2107.28" font-size="28" text-anchor="end">2.0</text>
<line x1="236" y1="2042.5" x2="244.4" y2="2042.5" stroke="#000" stroke-width="4"/>
<text x="228.6" y="2052.5" font-size="28" text-anchor="end">2.5</text>
<text x="157.5" y="2179.5" font-size="31" text-anchor="middle" transform="rotate(-90 157.5 2179.5)">Relative Tfam protein level</text>
<rect x="258.1" y="2207.3" width="54.3" height="109.1" fill="#fff" stroke="#000" stroke-width="4"/>
<line x1="285.25" y1="2187.2" x2="285.25" y2="2207.3" stroke="#000" stroke-width="3.6"/>
<line x1="271.75" y1="2187.2" x2="298.75" y2="2187.2" stroke="#000" stroke-width="3.6"/>
<circle cx="285.28" cy="2139.72" r="6.3"/>
<circle cx="285.28" cy="2167.5" r="6.3"/>
<circle cx="285.28" cy="2197.5" r="6.3"/>
<circle cx="285.28" cy="2218.33" r="6.3"/>
<circle cx="291.67" cy="2259.44" r="6.3"/>
<circle cx="279.17" cy="2266.39" r="6.3"/>
<rect x="339.5" y="2128.1" width="54.3" height="188.3" fill="#0000ff" stroke="#000" stroke-width="4"/>
<line x1="366.65" y1="2117.5" x2="366.65" y2="2128.1" stroke="#000" stroke-width="3.6"/>
<line x1="353.15" y1="2117.5" x2="380.15" y2="2117.5" stroke="#000" stroke-width="3.6"/>
<circle cx="366.67" cy="2075.83" r="6.3"/>
<circle cx="366.67" cy="2126.67" r="6.3"/>
<circle cx="379.17" cy="2131.39" r="6.3"/>
<circle cx="354.17" cy="2139.72" r="6.3"/>
<circle cx="366.67" cy="2141.94" r="6.3"/>
<circle cx="366.67" cy="2157.78" r="6.3"/>
<path d="M286.7 2112.8 V2028 H366.7 V2043.9" fill="none" stroke="#000" stroke-width="3.3"/>
<text x="270.8" y="2019.7" font-size="27.4" text-anchor="start"><tspan font-style="italic">p</tspan>=0.0037</text>
<line x1="284.7" y1="2316.4" x2="284.7" y2="2326.4" stroke="#000" stroke-width="4"/>
<text x="290.5" y="2346" font-size="28" text-anchor="end" transform="rotate(-45 290.5 2346)">WT</text>
<line x1="366.1" y1="2316.4" x2="366.1" y2="2326.4" stroke="#000" stroke-width="4"/>
<text x="376" y="2350" font-size="28" text-anchor="end" transform="rotate(-45 376 2350)">CAG-<tspan font-style="italic">Caren</tspan> Tg</text>
<text x="1549.8" y="1756.4" font-size="34" text-anchor="start" font-family="Noto Sans CJK SC, Liberation Sans, sans-serif">g</text>
<line x1="1683.7" y1="1813.3" x2="1683.7" y2="2090.7" stroke="#000" stroke-width="4"/>
<line x1="1675.3" y1="2088.7" x2="1850" y2="2088.7" stroke="#000" stroke-width="4"/>
<line x1="1675.3" y1="2088.7" x2="1683.7" y2="2088.7" stroke="#000" stroke-width="4"/>
<text x="1667.5" y="2097.8" font-size="25.5" text-anchor="end">0.0</text>
<line x1="1675.3" y1="2020.35" x2="1683.7" y2="2020.35" stroke="#000" stroke-width="4"/>
<text x="1667.5" y="2029.45" font-size="25.5" text-anchor="end">0.5</text>
<line x1="1675.3" y1="1952" x2="1683.7" y2="1952" stroke="#000" stroke-width="4"/>
<text x="1667.5" y="1961.1" font-size="25.5" text-anchor="end">1.0</text>
<line x1="1675.3" y1="1883.65" x2="1683.7" y2="1883.65" stroke="#000" stroke-width="4"/>
<text x="1667.5" y="1892.75" font-size="25.5" text-anchor="end">1.5</text>
<line x1="1675.3" y1="1815.3" x2="1683.7" y2="1815.3" stroke="#000" stroke-width="4"/>
<text x="1667.5" y="1824.4" font-size="25.5" text-anchor="end">2.0</text>
<text x="1595.6" y="1963" font-size="31" text-anchor="middle" transform="rotate(-90 1595.6 1963)">Relative mtDNA content</text>
<rect x="1697.4" y="1951.5" width="54.9" height="137.2" fill="#fff" stroke="#000" stroke-width="4"/>
<line x1="1724.85" y1="1925.1" x2="1724.85" y2="1978" stroke="#000" stroke-width="3.6"/>
<line x1="1711.35" y1="1925.1" x2="1738.35" y2="1925.1" stroke="#000" stroke-width="3.6"/>
<line x1="1711.35" y1="1978" x2="1738.35" y2="1978" stroke="#000" stroke-width="3.6"/>
<circle cx="1718.19" cy="1921.86" r="4"/>
<circle cx="1731.75" cy="1927.29" r="4"/>
<circle cx="1718.19" cy="1948.17" r="4"/>
<circle cx="1731.75" cy="1948.17" r="4"/>
<circle cx="1725.25" cy="1970.68" r="4"/>
<circle cx="1725.25" cy="1992.38" r="4"/>
<rect x="1779.9" y="1895.9" width="53.7" height="192.8" fill="#0000ff" stroke="#000" stroke-width="4"/>
<line x1="1806.75" y1="1885.8" x2="1806.75" y2="1906.1" stroke="#000" stroke-width="3.6"/>
<line x1="1793.25" y1="1885.8" x2="1820.25" y2="1885.8" stroke="#000" stroke-width="3.6"/>
<line x1="1793.25" y1="1906.1" x2="1820.25" y2="1906.1" stroke="#000" stroke-width="3.6"/>
<circle cx="1806.61" cy="1848.36" r="4"/>
<circle cx="1806.61" cy="1893.11" r="4"/>
<circle cx="1824.78" cy="1901.25" r="4"/>
<circle cx="1786.81" cy="1909.38" r="4"/>
<circle cx="1800.37" cy="1912.91" r="4"/>
<circle cx="1812.58" cy="1912.37" r="4"/>
<path d="M1725.8 1901.3 V1803.1 H1808 V1824.8" fill="none" stroke="#000" stroke-width="3.3"/>
<text x="1709.5" y="1794.4" font-size="27.4" text-anchor="start"><tspan font-style="italic">p</tspan>=0.0069</text>
<line x1="1724.4" y1="2088.7" x2="1724.4" y2="2098.7" stroke="#000" stroke-width="4"/>
<text x="1731" y="2125.5" font-size="28" text-anchor="end" transform="rotate(-45 1731 2125.5)">WT</text>
<line x1="1806.6" y1="2088.7" x2="1806.6" y2="2098.7" stroke="#000" stroke-width="4"/>
<text x="1816" y="2130" font-size="28" text-anchor="end" transform="rotate(-45 1816 2130)">CAG-<tspan font-style="italic">Caren</tspan> Tg</text>
<text x="615.5" y="1743" font-size="35" text-anchor="start" font-family="Noto Sans CJK SC, Liberation Sans, sans-serif">f</text>
<text x="845.6" y="1787.8" font-size="27.3" text-anchor="middle">WT</text>
<text x="1282.2" y="1787.8" font-size="27.7" text-anchor="middle">CAG-<tspan font-style="italic">Caren</tspan> Tg</text>
<line x1="637.8" y1="1798.3" x2="1058.9" y2="1798.3" stroke="#000" stroke-width="3.5"/>
<line x1="1078.9" y1="1798.3" x2="1497.2" y2="1798.3" stroke="#000" stroke-width="3.5"/>
<g clip-path="url(#emL)">
<rect x="640" y="1808" width="417" height="301" fill="#9c9c9c"/>
<g filter="url(#emb)">
<line x1="643.28" y1="1887.99" x2="707.05" y2="1845.48" stroke="#d0d0d0" stroke-width="4" stroke-linecap="round"/>
<line x1="736.27" y1="1885.33" x2="847.85" y2="1834.85" stroke="#d4d4d4" stroke-width="4" stroke-linecap="round"/>
<line x1="815.97" y1="1919.87" x2="919.59" y2="1877.36" stroke="#cfcfcf" stroke-width="3.5" stroke-linecap="round"/>
<line x1="754.87" y1="1949.09" x2="802.69" y2="1919.87" stroke="#c8c8c8" stroke-width="3" stroke-linecap="round"/>
<line x1="645.94" y1="1999.57" x2="717.67" y2="1965.03" stroke="#cacaca" stroke-width="3" stroke-linecap="round"/>
<line x1="656.57" y1="2034.11" x2="749.55" y2="1999.57" stroke="#cdcdcd" stroke-width="3.5" stroke-linecap="round"/>
<line x1="922.24" y1="1965.03" x2="1001.94" y2="1933.15" stroke="#c6c6c6" stroke-width="3" stroke-linecap="round"/>
<line x1="741.58" y1="2023.48" x2="831.91" y2="2012.85" stroke="#c8c8c8" stroke-width="4" stroke-linecap="round"/>
<line x1="869.11" y1="1980.97" x2="930.21" y2="1967.69" stroke="#d0d0d0" stroke-width="3.5" stroke-linecap="round"/>
<line x1="930.21" y1="1829.54" x2="983.35" y2="1834.85" stroke="#d0d0d0" stroke-width="5" stroke-linecap="round"/>
<line x1="996.63" y1="2044.73" x2="1052.42" y2="2023.48" stroke="#cccccc" stroke-width="4" stroke-linecap="round"/>
<line x1="959.44" y1="2076.62" x2="1017.89" y2="2084.59" stroke="#cacaca" stroke-width="4" stroke-linecap="round"/>
<line x1="645.94" y1="1864.08" x2="701.73" y2="1834.85" stroke="#c8c8c8" stroke-width="3" stroke-linecap="round"/>
<line x1="831.91" y1="2034.11" x2="869.11" y2="2042.08" stroke="#cccccc" stroke-width="4" stroke-linecap="round"/>
<line x1="877.08" y1="2042.08" x2="1001.94" y2="2007.54" stroke="#c4c4c4" stroke-width="3" stroke-linecap="round"/>
<line x1="683.13" y1="2100.53" x2="717.67" y2="2071.3" stroke="#c6c6c6" stroke-width="3" stroke-linecap="round"/>
<ellipse cx="669.85" cy="1829.54" rx="34.54" ry="18.6" fill="#5f5f5f" transform="rotate(-25 669.85 1829.54)"/>
<ellipse cx="746.9" cy="1828.21" rx="18.6" ry="9.3" fill="#5f5f5f" transform="rotate(-30 746.9 1828.21)"/>
<ellipse cx="672.51" cy="1872.05" rx="29.22" ry="7.44" fill="#5f5f5f" transform="rotate(-30 672.51 1872.05)"/>
<ellipse cx="645.94" cy="1933.15" rx="7.97" ry="6.64" fill="#5f5f5f" transform="rotate(0 645.94 1933.15)"/>
<ellipse cx="680.48" cy="1917.21" rx="10.63" ry="4.78" fill="#5f5f5f" transform="rotate(-20 680.48 1917.21)"/>
<ellipse cx="709.7" cy="1901.27" rx="13.28" ry="4.78" fill="#5f5f5f" transform="rotate(-35 709.7 1901.27)"/>
<ellipse cx="661.88" cy="1975.66" rx="23.91" ry="16.47" fill="#5f5f5f" transform="rotate(-20 661.88 1975.66)"/>
<ellipse cx="696.42" cy="1958.39" rx="23.91" ry="14.61" fill="#5f5f5f" transform="rotate(-20 696.42 1958.39)"/>
<ellipse cx="736.27" cy="1933.15" rx="21.25" ry="13.28" fill="#5f5f5f" transform="rotate(-30 736.27 1933.15)"/>
<ellipse cx="762.84" cy="1918.54" rx="15.94" ry="13.82" fill="#5f5f5f" transform="rotate(-40 762.84 1918.54)"/>
<ellipse cx="778.78" cy="1906.58" rx="10.63" ry="7.97" fill="#5f5f5f" transform="rotate(-30 778.78 1906.58)"/>
<ellipse cx="810.66" cy="1901.27" rx="21.25" ry="11.96" fill="#5f5f5f" transform="rotate(-25 810.66 1901.27)"/>
<ellipse cx="847.85" cy="1882.67" rx="23.91" ry="11.96" fill="#5f5f5f" transform="rotate(-30 847.85 1882.67)"/>
<ellipse cx="895.67" cy="1861.42" rx="23.91" ry="10.63" fill="#5f5f5f" transform="rotate(-30 895.67 1861.42)"/>
<ellipse cx="914.27" cy="1852.12" rx="11.96" ry="9.3" fill="#5f5f5f" transform="rotate(-30 914.27 1852.12)"/>
<ellipse cx="815.97" cy="1986.29" rx="23.91" ry="10.63" fill="#5f5f5f" transform="rotate(-25 815.97 1986.29)"/>
<ellipse cx="863.79" cy="1959.72" rx="21.25" ry="10.63" fill="#5f5f5f" transform="rotate(-30 863.79 1959.72)"/>
<ellipse cx="906.3" cy="1938.46" rx="23.91" ry="9.3" fill="#5f5f5f" transform="rotate(-30 906.3 1938.46)"/>
<ellipse cx="943.5" cy="1919.87" rx="23.91" ry="9.3" fill="#5f5f5f" transform="rotate(-30 943.5 1919.87)"/>
<ellipse cx="980.69" cy="1893.3" rx="21.25" ry="11.96" fill="#5f5f5f" transform="rotate(-35 980.69 1893.3)"/>
<ellipse cx="1015.23" cy="1872.05" rx="18.6" ry="11.96" fill="#5f5f5f" transform="rotate(-35 1015.23 1872.05)"/>
<ellipse cx="1041.8" cy="1852.12" rx="14.61" ry="10.63" fill="#5f5f5f" transform="rotate(-35 1041.8 1852.12)"/>
<ellipse cx="956.78" cy="1826.88" rx="15.94" ry="13.28" fill="#5f5f5f" transform="rotate(-30 956.78 1826.88)"/>
<ellipse cx="951.47" cy="1844.15" rx="10.63" ry="9.3" fill="#5f5f5f" transform="rotate(0 951.47 1844.15)"/>
<ellipse cx="988.66" cy="1824.22" rx="15.94" ry="5.84" fill="#5f5f5f" transform="rotate(-30 988.66 1824.22)"/>
<ellipse cx="773.46" cy="2010.2" rx="23.91" ry="9.3" fill="#5f5f5f" transform="rotate(-25 773.46 2010.2)"/>
<ellipse cx="800.03" cy="1996.91" rx="13.28" ry="7.97" fill="#5f5f5f" transform="rotate(-25 800.03 1996.91)"/>
<ellipse cx="855.82" cy="2020.82" rx="23.91" ry="14.61" fill="#5f5f5f" transform="rotate(-10 855.82 2020.82)"/>
<ellipse cx="895.67" cy="2023.48" rx="21.25" ry="10.63" fill="#5f5f5f" transform="rotate(0 895.67 2023.48)"/>
<ellipse cx="885.05" cy="1998.24" rx="18.6" ry="9.3" fill="#5f5f5f" transform="rotate(-20 885.05 1998.24)"/>
<ellipse cx="916.93" cy="1991.6" rx="18.6" ry="10.63" fill="#5f5f5f" transform="rotate(-20 916.93 1991.6)"/>
<ellipse cx="956.78" cy="1980.97" rx="26.57" ry="11.96" fill="#5f5f5f" transform="rotate(-20 956.78 1980.97)"/>
<ellipse cx="935.53" cy="2012.85" rx="19.93" ry="9.3" fill="#5f5f5f" transform="rotate(-10 935.53 2012.85)"/>
<ellipse cx="972.72" cy="1999.57" rx="15.94" ry="7.97" fill="#5f5f5f" transform="rotate(-20 972.72 1999.57)"/>
<ellipse cx="1004.6" cy="1967.69" rx="18.6" ry="16.47" fill="#5f5f5f" transform="rotate(-30 1004.6 1967.69)"/>
<ellipse cx="1036.48" cy="1949.09" rx="15.94" ry="15.94" fill="#5f5f5f" transform="rotate(0 1036.48 1949.09)"/>
<ellipse cx="1001.94" cy="1986.29" rx="13.28" ry="7.97" fill="#5f5f5f" transform="rotate(-30 1001.94 1986.29)"/>
<ellipse cx="1049.77" cy="1925.18" rx="7.97" ry="7.97" fill="#5f5f5f" transform="rotate(0 1049.77 1925.18)"/>
<ellipse cx="815.97" cy="2042.08" rx="26.57" ry="16.47" fill="#5f5f5f" transform="rotate(-20 815.97 2042.08)"/>
<ellipse cx="770.81" cy="2060.67" rx="23.91" ry="13.28" fill="#5f5f5f" transform="rotate(-20 770.81 2060.67)"/>
<ellipse cx="789.4" cy="2076.62" rx="23.91" ry="13.28" fill="#5f5f5f" transform="rotate(-30 789.4 2076.62)"/>
<ellipse cx="855.82" cy="2046.06" rx="15.94" ry="10.63" fill="#5f5f5f" transform="rotate(-30 855.82 2046.06)"/>
<ellipse cx="736.27" cy="2073.96" rx="18.6" ry="13.28" fill="#5f5f5f" transform="rotate(-30 736.27 2073.96)"/>
<ellipse cx="709.7" cy="2092.56" rx="15.94" ry="10.63" fill="#5f5f5f" transform="rotate(-30 709.7 2092.56)"/>
<ellipse cx="749.55" cy="2093.88" rx="18.6" ry="10.63" fill="#5f5f5f" transform="rotate(-20 749.55 2093.88)"/>
<ellipse cx="677.82" cy="2097.87" rx="10.63" ry="7.97" fill="#5f5f5f" transform="rotate(0 677.82 2097.87)"/>
<ellipse cx="683.13" cy="2055.36" rx="13.28" ry="5.31" fill="#5f5f5f" transform="rotate(-30 683.13 2055.36)"/>
<ellipse cx="707.05" cy="2044.73" rx="10.63" ry="5.31" fill="#5f5f5f" transform="rotate(-30 707.05 2044.73)"/>
<ellipse cx="653.91" cy="2068.65" rx="10.63" ry="9.3" fill="#5f5f5f" transform="rotate(-30 653.91 2068.65)"/>
<ellipse cx="874.42" cy="2092.56" rx="23.91" ry="10.63" fill="#5f5f5f" transform="rotate(-25 874.42 2092.56)"/>
<ellipse cx="919.59" cy="2081.93" rx="31.88" ry="11.16" fill="#5f5f5f" transform="rotate(-20 919.59 2081.93)"/>
<ellipse cx="956.78" cy="2089.9" rx="23.91" ry="10.63" fill="#5f5f5f" transform="rotate(-10 956.78 2089.9)"/>
<ellipse cx="993.97" cy="2087.24" rx="13.28" ry="7.97" fill="#5f5f5f" transform="rotate(-20 993.97 2087.24)"/>
<ellipse cx="986" cy="2058.02" rx="15.94" ry="9.3" fill="#5f5f5f" transform="rotate(-20 986 2058.02)"/>
<ellipse cx="1036.48" cy="2036.76" rx="13.28" ry="10.63" fill="#5f5f5f" transform="rotate(10 1036.48 2036.76)"/>
<ellipse cx="1031.17" cy="2068.65" rx="10.63" ry="11.16" fill="#5f5f5f" transform="rotate(-30 1031.17 2068.65)"/>
<ellipse cx="1048.44" cy="2015.51" rx="10.63" ry="13.28" fill="#5f5f5f" transform="rotate(-30 1048.44 2015.51)"/>
<ellipse cx="831.91" cy="2104.51" rx="15.94" ry="5.31" fill="#5f5f5f" transform="rotate(0 831.91 2104.51)"/>
<ellipse cx="980.69" cy="2100.53" rx="10.63" ry="6.64" fill="#5f5f5f" transform="rotate(-20 980.69 2100.53)"/>
<circle cx="821.29" cy="1895.43" r="5.84" fill="#2a2a2a"/>
<circle cx="958.11" cy="1911.9" r="5.31" fill="#2a2a2a"/>
<circle cx="1020.54" cy="1864.08" r="5.31" fill="#2a2a2a"/>
<circle cx="710.5" cy="1948.56" r="3.99" fill="#2a2a2a"/>
<circle cx="877.08" cy="1943.25" r="3.45" fill="#2a2a2a"/>
<circle cx="832.44" cy="1975.66" r="3.45" fill="#2a2a2a"/>
</g>
<rect x="640" y="1808" width="417" height="301" fill="#000" filter="url(#emn)"/>
<rect x="640" y="1808" width="417" height="301" fill="#fff" filter="url(#emn2)"/>
</g>
<g clip-path="url(#emR)">
<rect x="1081" y="1808" width="414" height="301" fill="#9e9e9e"/>
<g filter="url(#emb)">
<line x1="1085.94" y1="1837.51" x2="1181.58" y2="1848.13" stroke="#bdbdbd" stroke-width="8" stroke-linecap="round"/>
<line x1="1402.09" y1="1834.85" x2="1492.42" y2="1861.42" stroke="#b8b8b8" stroke-width="10" stroke-linecap="round"/>
<line x1="1123.13" y1="1922.52" x2="1335.67" y2="1909.24" stroke="#b4b4b4" stroke-width="10" stroke-linecap="round"/>
<line x1="1255.97" y1="1975.66" x2="1356.93" y2="1965.03" stroke="#b8b8b8" stroke-width="14" stroke-linecap="round"/>
<line x1="1096.57" y1="1991.6" x2="1229.4" y2="1986.29" stroke="#b6b6b6" stroke-width="8" stroke-linecap="round"/>
<line x1="1402.09" y1="2015.51" x2="1492.42" y2="2034.11" stroke="#b8b8b8" stroke-width="12" stroke-linecap="round"/>
<line x1="1218.78" y1="2058.02" x2="1309.11" y2="2050.05" stroke="#c4c4c4" stroke-width="6" stroke-linecap="round"/>
<line x1="1096.57" y1="2095.21" x2="1335.67" y2="2095.21" stroke="#b4b4b4" stroke-width="10" stroke-linecap="round"/>
<polygon points="1083.28,1874.7 1149.7,1856.11 1229.4,1826.88 1309.11,1824.22 1388.81,1829.54 1402.09,1861.42 1396.78,1901.27 1335.67,1901.27 1255.97,1909.24 1176.27,1911.9 1109.85,1922.52 1083.28,1919.87" fill="#676767" opacity="0.5"/>
<polygon points="1083.28,1954.4 1149.7,1959.72 1189.55,1943.78 1269.26,1935.81 1335.67,1919.87 1388.81,1917.21 1388.81,1933.15 1309.11,1943.78 1269.26,1954.4 1202.84,1967.69 1149.7,1978.32 1083.28,1980.97" fill="#676767" opacity="0.5"/>
<polygon points="1362.24,1954.4 1402.09,1922.52 1455.23,1927.84 1492.42,1922.52 1492.42,2002.23 1428.66,2004.88 1375.53,1996.91" fill="#676767" opacity="0.5"/>
<polygon points="1083.28,2007.54 1149.7,2004.88 1202.84,1996.91 1282.54,1999.57 1356.93,1996.91 1396.78,2015.51 1396.78,2073.96 1309.11,2076.62 1229.4,2081.93 1149.7,2081.93 1083.28,2084.59" fill="#676767" opacity="0.5"/>
<ellipse cx="1284.53" cy="1886.22" rx="18.29" ry="14.31" fill="#676767" transform="rotate(6.99 1284.53 1886.22)"/>
<ellipse cx="1379.99" cy="1838.2" rx="15.67" ry="14.31" fill="#676767" transform="rotate(2.45 1379.99 1838.2)"/>
<ellipse cx="1373.16" cy="1843.57" rx="15.69" ry="10.61" fill="#676767" transform="rotate(-2.81 1373.16 1843.57)"/>
<ellipse cx="1268.92" cy="1844.67" rx="13.68" ry="10.78" fill="#676767" transform="rotate(15.82 1268.92 1844.67)"/>
<ellipse cx="1330.06" cy="1849.16" rx="18.31" ry="10.04" fill="#676767" transform="rotate(0.87 1330.06 1849.16)"/>
<ellipse cx="1126.33" cy="1853.52" rx="18.9" ry="10.41" fill="#676767" transform="rotate(-19.23 1126.33 1853.52)"/>
<ellipse cx="1399.15" cy="1886.22" rx="14.26" ry="14.41" fill="#676767" transform="rotate(-3.04 1399.15 1886.22)"/>
<ellipse cx="1302.04" cy="1853.67" rx="19.46" ry="12.97" fill="#676767" transform="rotate(18.33 1302.04 1853.67)"/>
<ellipse cx="1370.87" cy="1854.57" rx="14.83" ry="10.18" fill="#676767" transform="rotate(-22.71 1370.87 1854.57)"/>
<ellipse cx="1106.71" cy="1872.33" rx="16.76" ry="9.32" fill="#676767" transform="rotate(3.9 1106.71 1872.33)"/>
<ellipse cx="1193.67" cy="1867.04" rx="18.48" ry="11.85" fill="#676767" transform="rotate(-14.21 1193.67 1867.04)"/>
<ellipse cx="1239.36" cy="1887.06" rx="12.41" ry="14.48" fill="#676767" transform="rotate(-28.86 1239.36 1887.06)"/>
<ellipse cx="1324.98" cy="1889.55" rx="12.1" ry="13.48" fill="#676767" transform="rotate(-11.69 1324.98 1889.55)"/>
<ellipse cx="1270.38" cy="1844.34" rx="12.33" ry="10.26" fill="#676767" transform="rotate(17.76 1270.38 1844.34)"/>
<ellipse cx="1148.59" cy="1896.1" rx="19.36" ry="14.3" fill="#676767" transform="rotate(-12.78 1148.59 1896.1)"/>
<ellipse cx="1199.05" cy="1879.23" rx="18.14" ry="9.87" fill="#676767" transform="rotate(7.42 1199.05 1879.23)"/>
<ellipse cx="1340.1" cy="1889.41" rx="12.25" ry="14.32" fill="#676767" transform="rotate(-25.44 1340.1 1889.41)"/>
<ellipse cx="1194.57" cy="1884.57" rx="19.27" ry="11.1" fill="#676767" transform="rotate(16.21 1194.57 1884.57)"/>
<ellipse cx="1259.74" cy="1862.78" rx="14.48" ry="10.24" fill="#676767" transform="rotate(-26.09 1259.74 1862.78)"/>
<ellipse cx="1133.4" cy="1893.22" rx="19.9" ry="10.16" fill="#676767" transform="rotate(-27.57 1133.4 1893.22)"/>
<ellipse cx="1400.51" cy="1866.32" rx="15.19" ry="10.56" fill="#676767" transform="rotate(-0.3 1400.51 1866.32)"/>
<ellipse cx="1349.37" cy="1865.18" rx="15.32" ry="9.59" fill="#676767" transform="rotate(15.8 1349.37 1865.18)"/>
<ellipse cx="1096.37" cy="1884.26" rx="18.64" ry="9.99" fill="#676767" transform="rotate(6.58 1096.37 1884.26)"/>
<ellipse cx="1388.75" cy="1872.76" rx="18.24" ry="9.87" fill="#676767" transform="rotate(-8.27 1388.75 1872.76)"/>
<ellipse cx="1133.52" cy="1902.31" rx="14.31" ry="11.71" fill="#676767" transform="rotate(19.96 1133.52 1902.31)"/>
<ellipse cx="1357.65" cy="1895.04" rx="15.57" ry="11.89" fill="#676767" transform="rotate(6.48 1357.65 1895.04)"/>
<ellipse cx="1238.66" cy="1862.93" rx="15.17" ry="10.08" fill="#676767" transform="rotate(-11.15 1238.66 1862.93)"/>
<ellipse cx="1401.05" cy="1891.2" rx="16.95" ry="11.95" fill="#676767" transform="rotate(-13.08 1401.05 1891.2)"/>
<ellipse cx="1114.36" cy="1870.13" rx="18.19" ry="13.91" fill="#676767" transform="rotate(-11.93 1114.36 1870.13)"/>
<ellipse cx="1336.53" cy="1884.69" rx="17.49" ry="12.83" fill="#676767" transform="rotate(7.98 1336.53 1884.69)"/>
<ellipse cx="1201.81" cy="1889.56" rx="14.19" ry="11.88" fill="#676767" transform="rotate(8.49 1201.81 1889.56)"/>
<ellipse cx="1306.2" cy="1858.6" rx="19.49" ry="12.75" fill="#676767" transform="rotate(-0.97 1306.2 1858.6)"/>
<ellipse cx="1089.63" cy="1887.83" rx="13.95" ry="12.87" fill="#676767" transform="rotate(-6.85 1089.63 1887.83)"/>
<ellipse cx="1346.31" cy="1876.59" rx="18.31" ry="11.15" fill="#676767" transform="rotate(2.2 1346.31 1876.59)"/>
<ellipse cx="1321.17" cy="1888.83" rx="14.75" ry="13.78" fill="#676767" transform="rotate(13.5 1321.17 1888.83)"/>
<ellipse cx="1305.39" cy="1898.53" rx="19.58" ry="12.05" fill="#676767" transform="rotate(-3.53 1305.39 1898.53)"/>
<ellipse cx="1138.92" cy="1901.47" rx="19.43" ry="11.83" fill="#676767" transform="rotate(4.57 1138.92 1901.47)"/>
<ellipse cx="1315.38" cy="1883.5" rx="13.32" ry="13.45" fill="#676767" transform="rotate(-0.96 1315.38 1883.5)"/>
<ellipse cx="1298.13" cy="1866.55" rx="16.93" ry="13.42" fill="#676767" transform="rotate(1.84 1298.13 1866.55)"/>
<ellipse cx="1315.62" cy="1842.41" rx="13.23" ry="11.64" fill="#676767" transform="rotate(2.51 1315.62 1842.41)"/>
<ellipse cx="1155.77" cy="1891.54" rx="16.98" ry="9.52" fill="#676767" transform="rotate(-6.42 1155.77 1891.54)"/>
<ellipse cx="1158.07" cy="1854.46" rx="13.02" ry="10.98" fill="#676767" transform="rotate(-20.92 1158.07 1854.46)"/>
<ellipse cx="1147.59" cy="1854.08" rx="15.66" ry="11.32" fill="#676767" transform="rotate(0.59 1147.59 1854.08)"/>
<ellipse cx="1274.09" cy="1857.46" rx="19.15" ry="9.3" fill="#676767" transform="rotate(-9.73 1274.09 1857.46)"/>
<ellipse cx="1174.74" cy="1874.15" rx="12.87" ry="13.72" fill="#676767" transform="rotate(-11.31 1174.74 1874.15)"/>
<ellipse cx="1097.44" cy="1891.2" rx="12.71" ry="12.2" fill="#676767" transform="rotate(-13.03 1097.44 1891.2)"/>
<ellipse cx="1234.72" cy="1830.83" rx="14.61" ry="10.1" fill="#676767" transform="rotate(0 1234.72 1830.83)"/>
<ellipse cx="1255.97" cy="1836.84" rx="14.61" ry="10.1" fill="#676767" transform="rotate(0 1255.97 1836.84)"/>
<ellipse cx="1279.88" cy="1834.62" rx="14.61" ry="10.1" fill="#676767" transform="rotate(0 1279.88 1834.62)"/>
<ellipse cx="1298.48" cy="1828.25" rx="14.61" ry="10.1" fill="#676767" transform="rotate(0 1298.48 1828.25)"/>
<ellipse cx="1335.67" cy="1834.53" rx="14.61" ry="10.1" fill="#676767" transform="rotate(0 1335.67 1834.53)"/>
<ellipse cx="1375.53" cy="1831.81" rx="14.61" ry="10.1" fill="#676767" transform="rotate(0 1375.53 1831.81)"/>
<ellipse cx="1200.78" cy="1943.65" rx="19.36" ry="9.77" fill="#676767" transform="rotate(-8 1200.78 1943.65)"/>
<ellipse cx="1383.48" cy="1935.59" rx="19.46" ry="9.09" fill="#676767" transform="rotate(-8 1383.48 1935.59)"/>
<ellipse cx="1363.67" cy="1920.15" rx="15.47" ry="9.77" fill="#676767" transform="rotate(-8 1363.67 1920.15)"/>
<ellipse cx="1277.16" cy="1933.83" rx="19.63" ry="10.81" fill="#676767" transform="rotate(-8 1277.16 1933.83)"/>
<ellipse cx="1202.77" cy="1948.78" rx="16.42" ry="8.9" fill="#676767" transform="rotate(-8 1202.77 1948.78)"/>
<ellipse cx="1388.22" cy="1924.04" rx="22.27" ry="10.88" fill="#676767" transform="rotate(-8 1388.22 1924.04)"/>
<ellipse cx="1271.14" cy="1936.82" rx="22.43" ry="9.55" fill="#676767" transform="rotate(-8 1271.14 1936.82)"/>
<ellipse cx="1215.09" cy="1945.11" rx="22.46" ry="9.54" fill="#676767" transform="rotate(-8 1215.09 1945.11)"/>
<ellipse cx="1174.96" cy="1953.19" rx="15.58" ry="9.95" fill="#676767" transform="rotate(-8 1174.96 1953.19)"/>
<ellipse cx="1223.79" cy="1943.51" rx="20.84" ry="10.61" fill="#676767" transform="rotate(-8 1223.79 1943.51)"/>
<ellipse cx="1090.04" cy="1965.11" rx="16.79" ry="10.95" fill="#676767" transform="rotate(-8 1090.04 1965.11)"/>
<ellipse cx="1328.99" cy="1929.14" rx="16.75" ry="8.46" fill="#676767" transform="rotate(-8 1328.99 1929.14)"/>
<ellipse cx="1393.31" cy="1921.78" rx="19.46" ry="9.48" fill="#676767" transform="rotate(-8 1393.31 1921.78)"/>
<ellipse cx="1286.39" cy="1941.26" rx="20.54" ry="8.35" fill="#676767" transform="rotate(-8 1286.39 1941.26)"/>
<ellipse cx="1322.3" cy="1931.02" rx="18.86" ry="9.04" fill="#676767" transform="rotate(-8 1322.3 1931.02)"/>
<ellipse cx="1178.2" cy="1953.76" rx="18.31" ry="9.12" fill="#676767" transform="rotate(-8 1178.2 1953.76)"/>
<ellipse cx="1460.58" cy="1971.79" rx="12.2" ry="11.63" fill="#676767" transform="rotate(-2.66 1460.58 1971.79)"/>
<ellipse cx="1482.01" cy="1993.89" rx="15.58" ry="10.69" fill="#676767" transform="rotate(16.7 1482.01 1993.89)"/>
<ellipse cx="1420.97" cy="1970.66" rx="16.66" ry="13.15" fill="#676767" transform="rotate(-1.09 1420.97 1970.66)"/>
<ellipse cx="1481.4" cy="1956.51" rx="14.56" ry="14.02" fill="#676767" transform="rotate(-18.21 1481.4 1956.51)"/>
<ellipse cx="1404.57" cy="1989.58" rx="12.39" ry="13.96" fill="#676767" transform="rotate(11.68 1404.57 1989.58)"/>
<ellipse cx="1421.6" cy="1949.14" rx="17.14" ry="14.26" fill="#676767" transform="rotate(-21.44 1421.6 1949.14)"/>
<ellipse cx="1427.29" cy="1968.68" rx="15.26" ry="11.95" fill="#676767" transform="rotate(-20.79 1427.29 1968.68)"/>
<ellipse cx="1440.71" cy="1988.23" rx="12.41" ry="11.54" fill="#676767" transform="rotate(19.18 1440.71 1988.23)"/>
<ellipse cx="1466.42" cy="1977.2" rx="12.13" ry="13.51" fill="#676767" transform="rotate(28.72 1466.42 1977.2)"/>
<ellipse cx="1492.21" cy="1980" rx="12.28" ry="13.98" fill="#676767" transform="rotate(-16.85 1492.21 1980)"/>
<ellipse cx="1448.19" cy="1998.67" rx="16.69" ry="11.16" fill="#676767" transform="rotate(-12.45 1448.19 1998.67)"/>
<ellipse cx="1482.18" cy="1938.98" rx="16.01" ry="12.28" fill="#676767" transform="rotate(-20.33 1482.18 1938.98)"/>
<ellipse cx="1445.27" cy="1931.08" rx="12.67" ry="12.14" fill="#676767" transform="rotate(-25.68 1445.27 1931.08)"/>
<ellipse cx="1374.74" cy="1970.63" rx="16.89" ry="14.13" fill="#676767" transform="rotate(-21.94 1374.74 1970.63)"/>
<ellipse cx="1421.46" cy="1951.24" rx="15.94" ry="12.58" fill="#676767" transform="rotate(26.31 1421.46 1951.24)"/>
<ellipse cx="1414.28" cy="1931.98" rx="16.59" ry="11.23" fill="#676767" transform="rotate(7.88 1414.28 1931.98)"/>
<ellipse cx="1430.72" cy="1995.56" rx="15.64" ry="13.1" fill="#676767" transform="rotate(-14.21 1430.72 1995.56)"/>
<ellipse cx="1436.44" cy="1946.75" rx="16.94" ry="12.69" fill="#676767" transform="rotate(-21.97 1436.44 1946.75)"/>
<ellipse cx="1396.83" cy="1955.45" rx="16.85" ry="11.34" fill="#676767" transform="rotate(12.8 1396.83 1955.45)"/>
<ellipse cx="1449.35" cy="1934.18" rx="16.39" ry="10.99" fill="#676767" transform="rotate(-22.51 1449.35 1934.18)"/>
<ellipse cx="1441.72" cy="1945.59" rx="17.78" ry="12.54" fill="#676767" transform="rotate(-10.6 1441.72 1945.59)"/>
<ellipse cx="1467.01" cy="1930.03" rx="16.77" ry="10.84" fill="#676767" transform="rotate(-20.95 1467.01 1930.03)"/>
<ellipse cx="1486.43" cy="1978.5" rx="13.44" ry="11.09" fill="#676767" transform="rotate(28.36 1486.43 1978.5)"/>
<ellipse cx="1450.6" cy="1988.88" rx="12.88" ry="13.12" fill="#676767" transform="rotate(-8.74 1450.6 1988.88)"/>
<ellipse cx="1396.9" cy="1952.63" rx="16.03" ry="12.02" fill="#676767" transform="rotate(-6.86 1396.9 1952.63)"/>
<ellipse cx="1384.59" cy="1989.66" rx="16.26" ry="13.83" fill="#676767" transform="rotate(-4 1384.59 1989.66)"/>
<ellipse cx="1350.25" cy="2040.72" rx="16.68" ry="12.34" fill="#676767" transform="rotate(14.41 1350.25 2040.72)"/>
<ellipse cx="1207.27" cy="2009.44" rx="12.22" ry="10.37" fill="#676767" transform="rotate(-27.63 1207.27 2009.44)"/>
<ellipse cx="1362.06" cy="2038.01" rx="18.02" ry="9.3" fill="#676767" transform="rotate(-1.79 1362.06 2038.01)"/>
<ellipse cx="1362.23" cy="2048.31" rx="15.37" ry="11.77" fill="#676767" transform="rotate(-24.02 1362.23 2048.31)"/>
<ellipse cx="1131.77" cy="2014.06" rx="14.94" ry="11.35" fill="#676767" transform="rotate(22.82 1131.77 2014.06)"/>
<ellipse cx="1130.97" cy="2021.13" rx="14.17" ry="10.16" fill="#676767" transform="rotate(-12.78 1130.97 2021.13)"/>
<ellipse cx="1157.01" cy="2038.08" rx="12.21" ry="14.21" fill="#676767" transform="rotate(-7.86 1157.01 2038.08)"/>
<ellipse cx="1377.33" cy="2053.38" rx="17.33" ry="11.81" fill="#676767" transform="rotate(26.72 1377.33 2053.38)"/>
<ellipse cx="1120.25" cy="2051.96" rx="14.28" ry="12.88" fill="#676767" transform="rotate(13.76 1120.25 2051.96)"/>
<ellipse cx="1134.46" cy="2017.18" rx="12.15" ry="10.52" fill="#676767" transform="rotate(-25.31 1134.46 2017.18)"/>
<ellipse cx="1209.02" cy="2074.65" rx="14.86" ry="10.96" fill="#676767" transform="rotate(-1.92 1209.02 2074.65)"/>
<ellipse cx="1172.05" cy="2056.7" rx="17.68" ry="10.17" fill="#676767" transform="rotate(-15.57 1172.05 2056.7)"/>
<ellipse cx="1294.01" cy="2072.19" rx="17.1" ry="11.59" fill="#676767" transform="rotate(28.53 1294.01 2072.19)"/>
<ellipse cx="1085.25" cy="2006.75" rx="18.17" ry="11.48" fill="#676767" transform="rotate(-27.3 1085.25 2006.75)"/>
<ellipse cx="1255.21" cy="2075.84" rx="16.09" ry="11.16" fill="#676767" transform="rotate(-24.37 1255.21 2075.84)"/>
<ellipse cx="1105.61" cy="2069.09" rx="15.87" ry="14.27" fill="#676767" transform="rotate(-26.77 1105.61 2069.09)"/>
<ellipse cx="1159.61" cy="2005.98" rx="15.12" ry="9.62" fill="#676767" transform="rotate(-14.67 1159.61 2005.98)"/>
<ellipse cx="1211.02" cy="2024.99" rx="12.36" ry="9.5" fill="#676767" transform="rotate(28.3 1211.02 2024.99)"/>
<ellipse cx="1139.52" cy="2040.06" rx="15.16" ry="12.12" fill="#676767" transform="rotate(-24.94 1139.52 2040.06)"/>
<ellipse cx="1181.69" cy="2010.26" rx="16.27" ry="14.19" fill="#676767" transform="rotate(5.9 1181.69 2010.26)"/>
<ellipse cx="1351.88" cy="2018.18" rx="12.09" ry="12.17" fill="#676767" transform="rotate(-0.81 1351.88 2018.18)"/>
<ellipse cx="1262.42" cy="2030.24" rx="16.94" ry="13.15" fill="#676767" transform="rotate(24.78 1262.42 2030.24)"/>
<ellipse cx="1179.72" cy="2035.63" rx="18.54" ry="10.49" fill="#676767" transform="rotate(-23.06 1179.72 2035.63)"/>
<ellipse cx="1181.01" cy="2008.75" rx="18.11" ry="13.65" fill="#676767" transform="rotate(-11.23 1181.01 2008.75)"/>
<ellipse cx="1123.98" cy="2008.33" rx="13.91" ry="9.75" fill="#676767" transform="rotate(-4.28 1123.98 2008.33)"/>
<ellipse cx="1264.17" cy="2020.48" rx="12.45" ry="13.02" fill="#676767" transform="rotate(-27.12 1264.17 2020.48)"/>
<ellipse cx="1145.94" cy="2023.5" rx="14.93" ry="9.82" fill="#676767" transform="rotate(-4.77 1145.94 2023.5)"/>
<ellipse cx="1181.7" cy="2058.19" rx="16.39" ry="14.06" fill="#676767" transform="rotate(9.25 1181.7 2058.19)"/>
<ellipse cx="1321.45" cy="2044.98" rx="15.48" ry="13.64" fill="#676767" transform="rotate(9.33 1321.45 2044.98)"/>
<ellipse cx="1382.6" cy="2056.38" rx="17.54" ry="10.72" fill="#676767" transform="rotate(18.72 1382.6 2056.38)"/>
<ellipse cx="1203.17" cy="2011.92" rx="12.48" ry="10.2" fill="#676767" transform="rotate(-14.24 1203.17 2011.92)"/>
<ellipse cx="1295.17" cy="2023.47" rx="12.46" ry="13.36" fill="#676767" transform="rotate(3.43 1295.17 2023.47)"/>
<ellipse cx="1091.9" cy="2005.99" rx="12.99" ry="11.2" fill="#676767" transform="rotate(21.59 1091.9 2005.99)"/>
<ellipse cx="1380.86" cy="2047.75" rx="13.8" ry="11.58" fill="#676767" transform="rotate(-8.26 1380.86 2047.75)"/>
<ellipse cx="1186.85" cy="2003.15" rx="16.61" ry="13.69" fill="#676767" transform="rotate(13.61 1186.85 2003.15)"/>
<ellipse cx="1113.16" cy="2041.68" rx="13.32" ry="13.07" fill="#676767" transform="rotate(-3.23 1113.16 2041.68)"/>
<ellipse cx="1377.51" cy="2061.35" rx="12.9" ry="10.98" fill="#676767" transform="rotate(24.9 1377.51 2061.35)"/>
<ellipse cx="1227.8" cy="2034.52" rx="15.47" ry="13.38" fill="#676767" transform="rotate(26.18 1227.8 2034.52)"/>
<ellipse cx="1250.25" cy="2074.36" rx="16.71" ry="9.85" fill="#676767" transform="rotate(18.86 1250.25 2074.36)"/>
<ellipse cx="1214.78" cy="2006.12" rx="19.75" ry="9.47" fill="#676767" transform="rotate(4.62 1214.78 2006.12)"/>
<ellipse cx="1234.39" cy="2067.82" rx="15.09" ry="10.44" fill="#676767" transform="rotate(-13.38 1234.39 2067.82)"/>
<ellipse cx="1146.35" cy="2044.07" rx="14.8" ry="13.29" fill="#676767" transform="rotate(-15.51 1146.35 2044.07)"/>
<ellipse cx="1193.56" cy="2020.69" rx="19.79" ry="13.76" fill="#676767" transform="rotate(20.99 1193.56 2020.69)"/>
<ellipse cx="1277.07" cy="2032.05" rx="13.1" ry="13.72" fill="#676767" transform="rotate(-0.59 1277.07 2032.05)"/>
<ellipse cx="1095.12" cy="2014.84" rx="12.74" ry="13.11" fill="#676767" transform="rotate(24.01 1095.12 2014.84)"/>
<ellipse cx="1145.77" cy="2061.52" rx="14.54" ry="12.93" fill="#676767" transform="rotate(21.79 1145.77 2061.52)"/>
<ellipse cx="1278.62" cy="2061.77" rx="14.96" ry="9.35" fill="#676767" transform="rotate(0.7 1278.62 2061.77)"/>
<ellipse cx="1267.2" cy="2015.97" rx="15.06" ry="10.98" fill="#676767" transform="rotate(-28.38 1267.2 2015.97)"/>
<ellipse cx="1181.12" cy="2030.71" rx="15.75" ry="13.04" fill="#676767" transform="rotate(-6.05 1181.12 2030.71)"/>
<ellipse cx="1391.26" cy="2062.89" rx="19.32" ry="12.98" fill="#676767" transform="rotate(10.21 1391.26 2062.89)"/>
<ellipse cx="1251.54" cy="2061.64" rx="14.85" ry="12.45" fill="#676767" transform="rotate(10.77 1251.54 2061.64)"/>
<ellipse cx="1246.99" cy="2023.37" rx="12.58" ry="9.76" fill="#676767" transform="rotate(-8.65 1246.99 2023.37)"/>
<ellipse cx="1265.24" cy="2058.73" rx="17.65" ry="10.93" fill="#676767" transform="rotate(25.75 1265.24 2058.73)"/>
<ellipse cx="1169.37" cy="2055.49" rx="12.53" ry="13.3" fill="#676767" transform="rotate(10.2 1169.37 2055.49)"/>
<ellipse cx="1383.27" cy="2068.96" rx="17.44" ry="13.75" fill="#676767" transform="rotate(14.32 1383.27 2068.96)"/>
<ellipse cx="1274.82" cy="2017.75" rx="16.07" ry="14.06" fill="#676767" transform="rotate(-15.65 1274.82 2017.75)"/>
<ellipse cx="1388.84" cy="2042.69" rx="15.09" ry="9.31" fill="#676767" transform="rotate(-6.59 1388.84 2042.69)"/>
<ellipse cx="1139.13" cy="2050.81" rx="19.12" ry="14.13" fill="#676767" transform="rotate(6.81 1139.13 2050.81)"/>
<ellipse cx="1204.5" cy="2010.33" rx="17.45" ry="12.24" fill="#676767" transform="rotate(12.92 1204.5 2010.33)"/>
<ellipse cx="1200.54" cy="2068.19" rx="13.65" ry="10.92" fill="#676767" transform="rotate(-13.94 1200.54 2068.19)"/>
<ellipse cx="1418.03" cy="2028.79" rx="18.6" ry="7.44" fill="#676767" transform="rotate(-5 1418.03 2028.79)"/>
<ellipse cx="1468.51" cy="2068.65" rx="18.6" ry="7.44" fill="#676767" transform="rotate(-5 1468.51 2068.65)"/>
<ellipse cx="1484.45" cy="2060.67" rx="18.6" ry="7.44" fill="#676767" transform="rotate(-5 1484.45 2060.67)"/>
<ellipse cx="1229.4" cy="2084.59" rx="18.6" ry="7.44" fill="#676767" transform="rotate(-5 1229.4 2084.59)"/>
<ellipse cx="1255.97" cy="2081.93" rx="18.6" ry="7.44" fill="#676767" transform="rotate(-5 1255.97 2081.93)"/>
<ellipse cx="1189.55" cy="2092.56" rx="18.6" ry="7.44" fill="#676767" transform="rotate(-5 1189.55 2092.56)"/>
<ellipse cx="1412.72" cy="2063.33" rx="18.6" ry="7.44" fill="#676767" transform="rotate(-5 1412.72 2063.33)"/>
<line x1="1107.19" y1="1829.54" x2="1112.51" y2="1872.05" stroke="#626262" stroke-width="3" stroke-linecap="round"/>
<line x1="1147.05" y1="1840.16" x2="1149.7" y2="1856.11" stroke="#626262" stroke-width="3" stroke-linecap="round"/>
<line x1="1229.4" y1="1810.94" x2="1232.06" y2="1824.22" stroke="#626262" stroke-width="3" stroke-linecap="round"/>
<line x1="1162.99" y1="1919.87" x2="1170.96" y2="1949.09" stroke="#626262" stroke-width="3" stroke-linecap="round"/>
<line x1="1208.15" y1="1914.55" x2="1212.14" y2="1938.46" stroke="#626262" stroke-width="3" stroke-linecap="round"/>
<line x1="1250.66" y1="1914.55" x2="1253.32" y2="1933.15" stroke="#626262" stroke-width="3" stroke-linecap="round"/>
<line x1="1123.13" y1="1922.52" x2="1128.45" y2="1951.75" stroke="#626262" stroke-width="3" stroke-linecap="round"/>
<line x1="1184.24" y1="1949.09" x2="1189.55" y2="1965.03" stroke="#626262" stroke-width="3" stroke-linecap="round"/>
<line x1="1229.4" y1="1965.03" x2="1237.38" y2="1996.91" stroke="#626262" stroke-width="3" stroke-linecap="round"/>
<line x1="1269.26" y1="1957.06" x2="1279.88" y2="1996.91" stroke="#626262" stroke-width="3" stroke-linecap="round"/>
<line x1="1309.11" y1="1946.43" x2="1322.39" y2="1996.91" stroke="#626262" stroke-width="3" stroke-linecap="round"/>
<line x1="1350.29" y1="1943.78" x2="1356.93" y2="1959.72" stroke="#626262" stroke-width="3" stroke-linecap="round"/>
<line x1="1388.81" y1="1909.24" x2="1396.78" y2="1943.78" stroke="#626262" stroke-width="3" stroke-linecap="round"/>
<line x1="1426" y1="1813.6" x2="1441.94" y2="1887.99" stroke="#626262" stroke-width="3" stroke-linecap="round"/>
<line x1="1468.51" y1="1813.6" x2="1484.45" y2="1880.02" stroke="#626262" stroke-width="3" stroke-linecap="round"/>
<line x1="1428.66" y1="1898.61" x2="1431.32" y2="1919.87" stroke="#626262" stroke-width="3" stroke-linecap="round"/>
<line x1="1471.17" y1="1895.96" x2="1476.48" y2="1919.87" stroke="#626262" stroke-width="3" stroke-linecap="round"/>
<line x1="1473.83" y1="1988.94" x2="1487.11" y2="2050.05" stroke="#626262" stroke-width="3" stroke-linecap="round"/>
<line x1="1436.63" y1="2002.23" x2="1444.6" y2="2060.67" stroke="#626262" stroke-width="3" stroke-linecap="round"/>
<line x1="1104.54" y1="1986.29" x2="1115.16" y2="2015.51" stroke="#626262" stroke-width="3" stroke-linecap="round"/>
<line x1="1147.05" y1="1978.32" x2="1155.02" y2="2007.54" stroke="#626262" stroke-width="3" stroke-linecap="round"/>
<line x1="1186.9" y1="1978.32" x2="1192.21" y2="1991.6" stroke="#626262" stroke-width="3" stroke-linecap="round"/>
<line x1="1155.02" y1="2034.11" x2="1160.33" y2="2092.56" stroke="#626262" stroke-width="3" stroke-linecap="round"/>
<line x1="1194.87" y1="2065.99" x2="1200.18" y2="2087.24" stroke="#626262" stroke-width="3" stroke-linecap="round"/>
<line x1="1402.09" y1="2076.62" x2="1407.41" y2="2089.9" stroke="#626262" stroke-width="3" stroke-linecap="round"/>
<line x1="1319.73" y1="2081.93" x2="1322.39" y2="2103.18" stroke="#626262" stroke-width="3" stroke-linecap="round"/>
<line x1="1277.23" y1="2084.59" x2="1279.88" y2="2103.18" stroke="#626262" stroke-width="3" stroke-linecap="round"/>
<line x1="1362.24" y1="2076.62" x2="1364.9" y2="2087.24" stroke="#626262" stroke-width="3" stroke-linecap="round"/>
<line x1="1115.16" y1="2084.59" x2="1117.82" y2="2100.53" stroke="#626262" stroke-width="3" stroke-linecap="round"/>
<line x1="1444.6" y1="2065.99" x2="1447.26" y2="2087.24" stroke="#626262" stroke-width="3" stroke-linecap="round"/>
<line x1="1290.51" y1="1903.93" x2="1294.5" y2="1914.55" stroke="#626262" stroke-width="3" stroke-linecap="round"/>
<circle cx="1113.84" cy="1887.99" r="6.38" fill="#2a2a2a"/>
<circle cx="1124.46" cy="2018.17" r="4.25" fill="#2a2a2a"/>
<circle cx="1129.78" cy="2050.05" r="4.78" fill="#2a2a2a"/>
<circle cx="1201.51" cy="2040.75" r="4.25" fill="#2a2a2a"/>
<circle cx="1325.58" cy="1918.54" r="2.66" fill="#2a2a2a"/>
<circle cx="1228.87" cy="1958.92" r="2.39" fill="#2a2a2a"/>
<circle cx="1448.59" cy="2027.47" r="2.13" fill="#2a2a2a"/>
<circle cx="1370.21" cy="1840.7" r="2.13" fill="#2a2a2a"/>
</g>
<rect x="1081" y="1808" width="414" height="301" fill="#000" filter="url(#emn)"/>
<rect x="1081" y="1808" width="414" height="301" fill="#fff" filter="url(#emn2)"/>
</g>
<rect x="640.3" y="1808.1" width="416.1" height="300.5" fill="none" stroke="#000" stroke-width="5"/>
<rect x="1081.3" y="1808.1" width="413.4" height="300.5" fill="none" stroke="#000" stroke-width="5"/>
<rect x="1340.8" y="2090.7" width="144.6" height="7.8" fill="#000"/>
</svg>
</body></html>
